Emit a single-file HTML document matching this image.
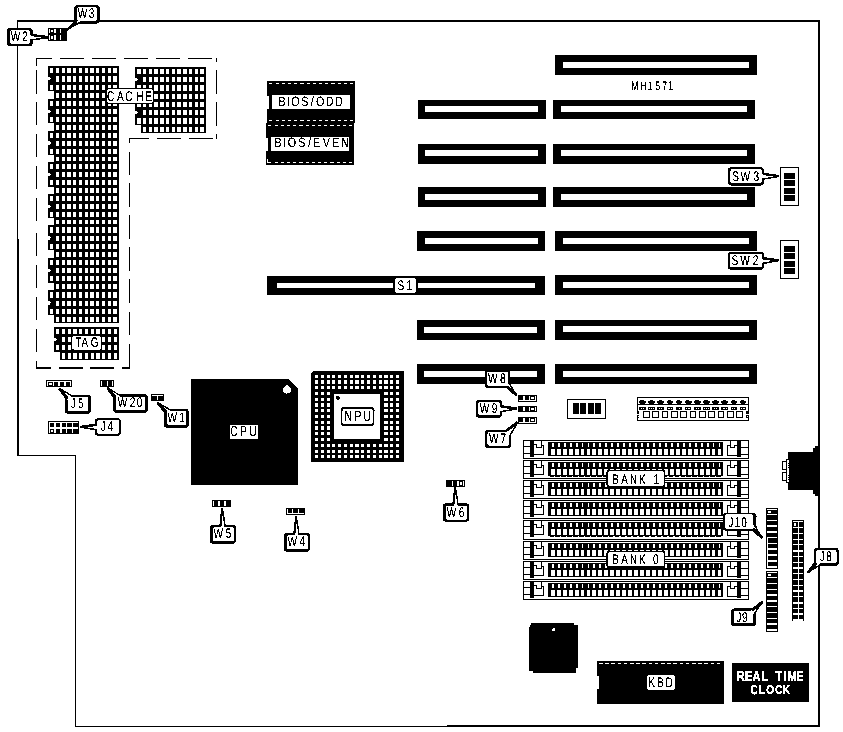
<!DOCTYPE html>
<html lang="en">
<head>
<meta charset="utf-8">
<title>MH1571 motherboard layout</title>
<style>
html,body{margin:0;padding:0;background:#fff;}
body{width:843px;height:732px;overflow:hidden;}
svg{display:block;font-family:"Liberation Sans",sans-serif;}
svg rect,svg path{shape-rendering:crispEdges;}
svg .aa{shape-rendering:auto;}
svg text{text-rendering:geometricPrecision;}
</style>
</head>
<body>
<svg width="843" height="732" viewBox="0 0 843 732">
<defs>
<filter id="bw" x="0" y="0" width="843" height="732" filterUnits="userSpaceOnUse" color-interpolation-filters="sRGB">
<feComponentTransfer>
<feFuncR type="discrete" tableValues="0 0 0 1 1"/>
<feFuncG type="discrete" tableValues="0 0 0 1 1"/>
<feFuncB type="discrete" tableValues="0 0 0 1 1"/>
</feComponentTransfer>
</filter>
</defs>
<g filter="url(#bw)">
<rect x="0" y="0" width="843" height="732" fill="#fff"/>
<rect x="17" y="20" width="803" height="2" fill="#000" />
<rect x="818" y="20" width="2" height="707" fill="#000" />
<rect x="75" y="726" width="372" height="1" fill="#000" />
<rect x="447" y="725" width="373" height="2" fill="#000" />
<rect x="75" y="455" width="1" height="272" fill="#000" />
<rect x="17" y="455" width="59" height="1" fill="#000" />
<rect x="17" y="20" width="1" height="219" fill="#000" />
<rect x="17" y="239" width="2" height="217" fill="#000" />
<rect x="36.1" y="58" width="15.7" height="1.2" fill="#000" />
<rect x="60.2" y="58" width="23.6" height="1.2" fill="#000" />
<rect x="92.2" y="58" width="23.7" height="1.2" fill="#000" />
<rect x="124.1" y="58" width="23.9" height="1.2" fill="#000" />
<rect x="156.2" y="58" width="23.9" height="1.2" fill="#000" />
<rect x="188" y="58" width="23.8" height="1.2" fill="#000" />
<rect x="215.7" y="58" width="1.4" height="1.2" fill="#000" />
<rect x="215.9" y="58" width="1.2" height="4" fill="#000" />
<rect x="215.9" y="69.8" width="1.2" height="23.9" fill="#000" />
<rect x="215.9" y="101.9" width="1.2" height="23.9" fill="#000" />
<rect x="215.9" y="134" width="1.2" height="5.4" fill="#000" />
<rect x="129" y="138.2" width="20" height="1.2" fill="#000" />
<rect x="156.9" y="138.2" width="23.9" height="1.2" fill="#000" />
<rect x="189" y="138.2" width="23.9" height="1.2" fill="#000" />
<rect x="215.7" y="138.2" width="1.4" height="1.2" fill="#000" />
<rect x="128.9" y="138.8" width="1.2" height="3.8" fill="#000" />
<rect x="128.9" y="151.5" width="1.2" height="23.7" fill="#000" />
<rect x="128.9" y="183.1" width="1.2" height="23.7" fill="#000" />
<rect x="128.9" y="215" width="1.2" height="23.7" fill="#000" />
<rect x="128.9" y="247.2" width="1.2" height="23.4" fill="#000" />
<rect x="128.9" y="279.3" width="1.2" height="23.7" fill="#000" />
<rect x="128.9" y="311.6" width="1.2" height="23.7" fill="#000" />
<rect x="128.9" y="343.6" width="1.2" height="25" fill="#000" />
<rect x="36.1" y="58" width="1.2" height="8.2" fill="#000" />
<rect x="36.1" y="69.9" width="1.2" height="23.6" fill="#000" />
<rect x="36.1" y="101.8" width="1.2" height="23.6" fill="#000" />
<rect x="36.1" y="133.7" width="1.2" height="23.6" fill="#000" />
<rect x="36.1" y="165.7" width="1.2" height="23.6" fill="#000" />
<rect x="36.1" y="197.6" width="1.2" height="23.6" fill="#000" />
<rect x="36.1" y="232.6" width="1.2" height="23.8" fill="#000" />
<rect x="36.1" y="264.6" width="1.2" height="23.7" fill="#000" />
<rect x="36.1" y="296.7" width="1.2" height="23.6" fill="#000" />
<rect x="36.1" y="328.5" width="1.2" height="23.7" fill="#000" />
<rect x="36.1" y="360.5" width="1.2" height="8.1" fill="#000" />
<rect x="36.1" y="367.4" width="14.9" height="1.2" fill="#000" />
<rect x="58.8" y="367.4" width="23.7" height="1.2" fill="#000" />
<rect x="90.4" y="367.4" width="23.7" height="1.2" fill="#000" />
<rect x="122" y="367.4" width="8.1" height="1.2" fill="#000" />
<g shape-rendering="crispEdges">
<rect x="48" y="65.8" width="71" height="25.35" fill="#000" />
<rect x="54" y="90.85" width="65" height="8.65" fill="#000" />
<path d="M50.10 67.8h3.3v5.35h-3.3zM55.85 67.8h3.3v5.35h-3.3zM61.60 67.8h3.3v5.35h-3.3zM67.35 67.8h3.3v5.35h-3.3zM73.10 67.8h3.3v5.35h-3.3zM78.85 67.8h3.3v5.35h-3.3zM84.60 67.8h3.3v5.35h-3.3zM90.35 67.8h3.3v5.35h-3.3zM96.10 67.8h3.3v5.35h-3.3zM101.85 67.8h3.3v5.35h-3.3zM107.60 67.8h3.3v5.35h-3.3zM113.35 67.8h3.3v5.35h-3.3z" fill="#fff"/>
<path d="M55.85 76.15h3.3v5.35h-3.3zM61.60 76.15h3.3v5.35h-3.3zM67.35 76.15h3.3v5.35h-3.3zM73.10 76.15h3.3v5.35h-3.3zM78.85 76.15h3.3v5.35h-3.3zM84.60 76.15h3.3v5.35h-3.3zM90.35 76.15h3.3v5.35h-3.3zM96.10 76.15h3.3v5.35h-3.3zM101.85 76.15h3.3v5.35h-3.3zM107.60 76.15h3.3v5.35h-3.3zM113.35 76.15h3.3v5.35h-3.3z" fill="#fff"/>
<path d="M50.10 84.5h3.3v5.35h-3.3zM55.85 84.5h3.3v5.35h-3.3zM61.60 84.5h3.3v5.35h-3.3zM67.35 84.5h3.3v5.35h-3.3zM73.10 84.5h3.3v5.35h-3.3zM78.85 84.5h3.3v5.35h-3.3zM84.60 84.5h3.3v5.35h-3.3zM90.35 84.5h3.3v5.35h-3.3zM96.10 84.5h3.3v5.35h-3.3zM101.85 84.5h3.3v5.35h-3.3zM107.60 84.5h3.3v5.35h-3.3zM113.35 84.5h3.3v5.35h-3.3z" fill="#fff"/>
<path d="M55.85 92.85h3.3v5.35h-3.3zM61.60 92.85h3.3v5.35h-3.3zM67.35 92.85h3.3v5.35h-3.3zM73.10 92.85h3.3v5.35h-3.3zM78.85 92.85h3.3v5.35h-3.3zM84.60 92.85h3.3v5.35h-3.3zM90.35 92.85h3.3v5.35h-3.3zM96.10 92.85h3.3v5.35h-3.3zM101.85 92.85h3.3v5.35h-3.3zM107.60 92.85h3.3v5.35h-3.3zM113.35 92.85h3.3v5.35h-3.3z" fill="#fff"/>
<path d="M48 76.55h1.6l1.4 1.9l-1.4 1.9h-1.6z" fill="#fff" class="aa"/>
<rect x="48" y="99.2" width="71" height="24" fill="#000" />
<rect x="54" y="122.9" width="65" height="8.2" fill="#000" />
<path d="M50.10 101.2h3.3v4.9h-3.3zM55.85 101.2h3.3v4.9h-3.3zM61.60 101.2h3.3v4.9h-3.3zM67.35 101.2h3.3v4.9h-3.3zM73.10 101.2h3.3v4.9h-3.3zM78.85 101.2h3.3v4.9h-3.3zM84.60 101.2h3.3v4.9h-3.3zM90.35 101.2h3.3v4.9h-3.3zM96.10 101.2h3.3v4.9h-3.3zM101.85 101.2h3.3v4.9h-3.3zM107.60 101.2h3.3v4.9h-3.3zM113.35 101.2h3.3v4.9h-3.3z" fill="#fff"/>
<path d="M55.85 109.1h3.3v4.9h-3.3zM61.60 109.1h3.3v4.9h-3.3zM67.35 109.1h3.3v4.9h-3.3zM73.10 109.1h3.3v4.9h-3.3zM78.85 109.1h3.3v4.9h-3.3zM84.60 109.1h3.3v4.9h-3.3zM90.35 109.1h3.3v4.9h-3.3zM96.10 109.1h3.3v4.9h-3.3zM101.85 109.1h3.3v4.9h-3.3zM107.60 109.1h3.3v4.9h-3.3zM113.35 109.1h3.3v4.9h-3.3z" fill="#fff"/>
<path d="M50.10 117h3.3v4.9h-3.3zM55.85 117h3.3v4.9h-3.3zM61.60 117h3.3v4.9h-3.3zM67.35 117h3.3v4.9h-3.3zM73.10 117h3.3v4.9h-3.3zM78.85 117h3.3v4.9h-3.3zM84.60 117h3.3v4.9h-3.3zM90.35 117h3.3v4.9h-3.3zM96.10 117h3.3v4.9h-3.3zM101.85 117h3.3v4.9h-3.3zM107.60 117h3.3v4.9h-3.3zM113.35 117h3.3v4.9h-3.3z" fill="#fff"/>
<path d="M55.85 124.9h3.3v4.9h-3.3zM61.60 124.9h3.3v4.9h-3.3zM67.35 124.9h3.3v4.9h-3.3zM73.10 124.9h3.3v4.9h-3.3zM78.85 124.9h3.3v4.9h-3.3zM84.60 124.9h3.3v4.9h-3.3zM90.35 124.9h3.3v4.9h-3.3zM96.10 124.9h3.3v4.9h-3.3zM101.85 124.9h3.3v4.9h-3.3zM107.60 124.9h3.3v4.9h-3.3zM113.35 124.9h3.3v4.9h-3.3z" fill="#fff"/>
<path d="M48 109.5h1.6l1.4 1.9l-1.4 1.9h-1.6z" fill="#fff" class="aa"/>
<rect x="48" y="130.8" width="71" height="24" fill="#000" />
<rect x="54" y="154.5" width="65" height="8.2" fill="#000" />
<path d="M50.10 132.8h3.3v4.9h-3.3zM55.85 132.8h3.3v4.9h-3.3zM61.60 132.8h3.3v4.9h-3.3zM67.35 132.8h3.3v4.9h-3.3zM73.10 132.8h3.3v4.9h-3.3zM78.85 132.8h3.3v4.9h-3.3zM84.60 132.8h3.3v4.9h-3.3zM90.35 132.8h3.3v4.9h-3.3zM96.10 132.8h3.3v4.9h-3.3zM101.85 132.8h3.3v4.9h-3.3zM107.60 132.8h3.3v4.9h-3.3zM113.35 132.8h3.3v4.9h-3.3z" fill="#fff"/>
<path d="M55.85 140.7h3.3v4.9h-3.3zM61.60 140.7h3.3v4.9h-3.3zM67.35 140.7h3.3v4.9h-3.3zM73.10 140.7h3.3v4.9h-3.3zM78.85 140.7h3.3v4.9h-3.3zM84.60 140.7h3.3v4.9h-3.3zM90.35 140.7h3.3v4.9h-3.3zM96.10 140.7h3.3v4.9h-3.3zM101.85 140.7h3.3v4.9h-3.3zM107.60 140.7h3.3v4.9h-3.3zM113.35 140.7h3.3v4.9h-3.3z" fill="#fff"/>
<path d="M50.10 148.6h3.3v4.9h-3.3zM55.85 148.6h3.3v4.9h-3.3zM61.60 148.6h3.3v4.9h-3.3zM67.35 148.6h3.3v4.9h-3.3zM73.10 148.6h3.3v4.9h-3.3zM78.85 148.6h3.3v4.9h-3.3zM84.60 148.6h3.3v4.9h-3.3zM90.35 148.6h3.3v4.9h-3.3zM96.10 148.6h3.3v4.9h-3.3zM101.85 148.6h3.3v4.9h-3.3zM107.60 148.6h3.3v4.9h-3.3zM113.35 148.6h3.3v4.9h-3.3z" fill="#fff"/>
<path d="M55.85 156.5h3.3v4.9h-3.3zM61.60 156.5h3.3v4.9h-3.3zM67.35 156.5h3.3v4.9h-3.3zM73.10 156.5h3.3v4.9h-3.3zM78.85 156.5h3.3v4.9h-3.3zM84.60 156.5h3.3v4.9h-3.3zM90.35 156.5h3.3v4.9h-3.3zM96.10 156.5h3.3v4.9h-3.3zM101.85 156.5h3.3v4.9h-3.3zM107.60 156.5h3.3v4.9h-3.3zM113.35 156.5h3.3v4.9h-3.3z" fill="#fff"/>
<path d="M48 141.1h1.6l1.4 1.9l-1.4 1.9h-1.6z" fill="#fff" class="aa"/>
<rect x="48" y="162.4" width="71" height="24.3" fill="#000" />
<rect x="54" y="186.4" width="65" height="8.3" fill="#000" />
<path d="M50.10 164.4h3.3v5h-3.3zM55.85 164.4h3.3v5h-3.3zM61.60 164.4h3.3v5h-3.3zM67.35 164.4h3.3v5h-3.3zM73.10 164.4h3.3v5h-3.3zM78.85 164.4h3.3v5h-3.3zM84.60 164.4h3.3v5h-3.3zM90.35 164.4h3.3v5h-3.3zM96.10 164.4h3.3v5h-3.3zM101.85 164.4h3.3v5h-3.3zM107.60 164.4h3.3v5h-3.3zM113.35 164.4h3.3v5h-3.3z" fill="#fff"/>
<path d="M55.85 172.4h3.3v5h-3.3zM61.60 172.4h3.3v5h-3.3zM67.35 172.4h3.3v5h-3.3zM73.10 172.4h3.3v5h-3.3zM78.85 172.4h3.3v5h-3.3zM84.60 172.4h3.3v5h-3.3zM90.35 172.4h3.3v5h-3.3zM96.10 172.4h3.3v5h-3.3zM101.85 172.4h3.3v5h-3.3zM107.60 172.4h3.3v5h-3.3zM113.35 172.4h3.3v5h-3.3z" fill="#fff"/>
<path d="M50.10 180.4h3.3v5h-3.3zM55.85 180.4h3.3v5h-3.3zM61.60 180.4h3.3v5h-3.3zM67.35 180.4h3.3v5h-3.3zM73.10 180.4h3.3v5h-3.3zM78.85 180.4h3.3v5h-3.3zM84.60 180.4h3.3v5h-3.3zM90.35 180.4h3.3v5h-3.3zM96.10 180.4h3.3v5h-3.3zM101.85 180.4h3.3v5h-3.3zM107.60 180.4h3.3v5h-3.3zM113.35 180.4h3.3v5h-3.3z" fill="#fff"/>
<path d="M55.85 188.4h3.3v5h-3.3zM61.60 188.4h3.3v5h-3.3zM67.35 188.4h3.3v5h-3.3zM73.10 188.4h3.3v5h-3.3zM78.85 188.4h3.3v5h-3.3zM84.60 188.4h3.3v5h-3.3zM90.35 188.4h3.3v5h-3.3zM96.10 188.4h3.3v5h-3.3zM101.85 188.4h3.3v5h-3.3zM107.60 188.4h3.3v5h-3.3zM113.35 188.4h3.3v5h-3.3z" fill="#fff"/>
<path d="M48 172.8h1.6l1.4 1.9l-1.4 1.9h-1.6z" fill="#fff" class="aa"/>
<rect x="48" y="194.4" width="71" height="23.55" fill="#000" />
<rect x="54" y="217.65" width="65" height="8.05" fill="#000" />
<path d="M50.10 196.4h3.3v4.75h-3.3zM55.85 196.4h3.3v4.75h-3.3zM61.60 196.4h3.3v4.75h-3.3zM67.35 196.4h3.3v4.75h-3.3zM73.10 196.4h3.3v4.75h-3.3zM78.85 196.4h3.3v4.75h-3.3zM84.60 196.4h3.3v4.75h-3.3zM90.35 196.4h3.3v4.75h-3.3zM96.10 196.4h3.3v4.75h-3.3zM101.85 196.4h3.3v4.75h-3.3zM107.60 196.4h3.3v4.75h-3.3zM113.35 196.4h3.3v4.75h-3.3z" fill="#fff"/>
<path d="M55.85 204.15h3.3v4.75h-3.3zM61.60 204.15h3.3v4.75h-3.3zM67.35 204.15h3.3v4.75h-3.3zM73.10 204.15h3.3v4.75h-3.3zM78.85 204.15h3.3v4.75h-3.3zM84.60 204.15h3.3v4.75h-3.3zM90.35 204.15h3.3v4.75h-3.3zM96.10 204.15h3.3v4.75h-3.3zM101.85 204.15h3.3v4.75h-3.3zM107.60 204.15h3.3v4.75h-3.3zM113.35 204.15h3.3v4.75h-3.3z" fill="#fff"/>
<path d="M50.10 211.9h3.3v4.75h-3.3zM55.85 211.9h3.3v4.75h-3.3zM61.60 211.9h3.3v4.75h-3.3zM67.35 211.9h3.3v4.75h-3.3zM73.10 211.9h3.3v4.75h-3.3zM78.85 211.9h3.3v4.75h-3.3zM84.60 211.9h3.3v4.75h-3.3zM90.35 211.9h3.3v4.75h-3.3zM96.10 211.9h3.3v4.75h-3.3zM101.85 211.9h3.3v4.75h-3.3zM107.60 211.9h3.3v4.75h-3.3zM113.35 211.9h3.3v4.75h-3.3z" fill="#fff"/>
<path d="M55.85 219.65h3.3v4.75h-3.3zM61.60 219.65h3.3v4.75h-3.3zM67.35 219.65h3.3v4.75h-3.3zM73.10 219.65h3.3v4.75h-3.3zM78.85 219.65h3.3v4.75h-3.3zM84.60 219.65h3.3v4.75h-3.3zM90.35 219.65h3.3v4.75h-3.3zM96.10 219.65h3.3v4.75h-3.3zM101.85 219.65h3.3v4.75h-3.3zM107.60 219.65h3.3v4.75h-3.3zM113.35 219.65h3.3v4.75h-3.3z" fill="#fff"/>
<path d="M48 204.55h1.6l1.4 1.9l-1.4 1.9h-1.6z" fill="#fff" class="aa"/>
<rect x="48" y="225.4" width="71" height="24.675" fill="#000" />
<rect x="54" y="249.775" width="65" height="8.425" fill="#000" />
<path d="M50.10 227.4h3.3v5.125h-3.3zM55.85 227.4h3.3v5.125h-3.3zM61.60 227.4h3.3v5.125h-3.3zM67.35 227.4h3.3v5.125h-3.3zM73.10 227.4h3.3v5.125h-3.3zM78.85 227.4h3.3v5.125h-3.3zM84.60 227.4h3.3v5.125h-3.3zM90.35 227.4h3.3v5.125h-3.3zM96.10 227.4h3.3v5.125h-3.3zM101.85 227.4h3.3v5.125h-3.3zM107.60 227.4h3.3v5.125h-3.3zM113.35 227.4h3.3v5.125h-3.3z" fill="#fff"/>
<path d="M55.85 235.525h3.3v5.125h-3.3zM61.60 235.525h3.3v5.125h-3.3zM67.35 235.525h3.3v5.125h-3.3zM73.10 235.525h3.3v5.125h-3.3zM78.85 235.525h3.3v5.125h-3.3zM84.60 235.525h3.3v5.125h-3.3zM90.35 235.525h3.3v5.125h-3.3zM96.10 235.525h3.3v5.125h-3.3zM101.85 235.525h3.3v5.125h-3.3zM107.60 235.525h3.3v5.125h-3.3zM113.35 235.525h3.3v5.125h-3.3z" fill="#fff"/>
<path d="M50.10 243.65h3.3v5.125h-3.3zM55.85 243.65h3.3v5.125h-3.3zM61.60 243.65h3.3v5.125h-3.3zM67.35 243.65h3.3v5.125h-3.3zM73.10 243.65h3.3v5.125h-3.3zM78.85 243.65h3.3v5.125h-3.3zM84.60 243.65h3.3v5.125h-3.3zM90.35 243.65h3.3v5.125h-3.3zM96.10 243.65h3.3v5.125h-3.3zM101.85 243.65h3.3v5.125h-3.3zM107.60 243.65h3.3v5.125h-3.3zM113.35 243.65h3.3v5.125h-3.3z" fill="#fff"/>
<path d="M55.85 251.775h3.3v5.125h-3.3zM61.60 251.775h3.3v5.125h-3.3zM67.35 251.775h3.3v5.125h-3.3zM73.10 251.775h3.3v5.125h-3.3zM78.85 251.775h3.3v5.125h-3.3zM84.60 251.775h3.3v5.125h-3.3zM90.35 251.775h3.3v5.125h-3.3zM96.10 251.775h3.3v5.125h-3.3zM101.85 251.775h3.3v5.125h-3.3zM107.60 251.775h3.3v5.125h-3.3zM113.35 251.775h3.3v5.125h-3.3z" fill="#fff"/>
<path d="M48 235.925h1.6l1.4 1.9l-1.4 1.9h-1.6z" fill="#fff" class="aa"/>
<rect x="48" y="257.9" width="71" height="24.675" fill="#000" />
<rect x="54" y="282.275" width="65" height="8.425" fill="#000" />
<path d="M50.10 259.9h3.3v5.125h-3.3zM55.85 259.9h3.3v5.125h-3.3zM61.60 259.9h3.3v5.125h-3.3zM67.35 259.9h3.3v5.125h-3.3zM73.10 259.9h3.3v5.125h-3.3zM78.85 259.9h3.3v5.125h-3.3zM84.60 259.9h3.3v5.125h-3.3zM90.35 259.9h3.3v5.125h-3.3zM96.10 259.9h3.3v5.125h-3.3zM101.85 259.9h3.3v5.125h-3.3zM107.60 259.9h3.3v5.125h-3.3zM113.35 259.9h3.3v5.125h-3.3z" fill="#fff"/>
<path d="M55.85 268.025h3.3v5.125h-3.3zM61.60 268.025h3.3v5.125h-3.3zM67.35 268.025h3.3v5.125h-3.3zM73.10 268.025h3.3v5.125h-3.3zM78.85 268.025h3.3v5.125h-3.3zM84.60 268.025h3.3v5.125h-3.3zM90.35 268.025h3.3v5.125h-3.3zM96.10 268.025h3.3v5.125h-3.3zM101.85 268.025h3.3v5.125h-3.3zM107.60 268.025h3.3v5.125h-3.3zM113.35 268.025h3.3v5.125h-3.3z" fill="#fff"/>
<path d="M50.10 276.15h3.3v5.125h-3.3zM55.85 276.15h3.3v5.125h-3.3zM61.60 276.15h3.3v5.125h-3.3zM67.35 276.15h3.3v5.125h-3.3zM73.10 276.15h3.3v5.125h-3.3zM78.85 276.15h3.3v5.125h-3.3zM84.60 276.15h3.3v5.125h-3.3zM90.35 276.15h3.3v5.125h-3.3zM96.10 276.15h3.3v5.125h-3.3zM101.85 276.15h3.3v5.125h-3.3zM107.60 276.15h3.3v5.125h-3.3zM113.35 276.15h3.3v5.125h-3.3z" fill="#fff"/>
<path d="M55.85 284.275h3.3v5.125h-3.3zM61.60 284.275h3.3v5.125h-3.3zM67.35 284.275h3.3v5.125h-3.3zM73.10 284.275h3.3v5.125h-3.3zM78.85 284.275h3.3v5.125h-3.3zM84.60 284.275h3.3v5.125h-3.3zM90.35 284.275h3.3v5.125h-3.3zM96.10 284.275h3.3v5.125h-3.3zM101.85 284.275h3.3v5.125h-3.3zM107.60 284.275h3.3v5.125h-3.3zM113.35 284.275h3.3v5.125h-3.3z" fill="#fff"/>
<path d="M48 268.425h1.6l1.4 1.9l-1.4 1.9h-1.6z" fill="#fff" class="aa"/>
<rect x="48" y="290.4" width="71" height="24.75" fill="#000" />
<rect x="54" y="314.85" width="65" height="8.15" fill="#000" />
<path d="M50.10 292.4h3.3v5.15h-3.3zM55.85 292.4h3.3v5.15h-3.3zM61.60 292.4h3.3v5.15h-3.3zM67.35 292.4h3.3v5.15h-3.3zM73.10 292.4h3.3v5.15h-3.3zM78.85 292.4h3.3v5.15h-3.3zM84.60 292.4h3.3v5.15h-3.3zM90.35 292.4h3.3v5.15h-3.3zM96.10 292.4h3.3v5.15h-3.3zM101.85 292.4h3.3v5.15h-3.3zM107.60 292.4h3.3v5.15h-3.3zM113.35 292.4h3.3v5.15h-3.3z" fill="#fff"/>
<path d="M55.85 300.55h3.3v5.15h-3.3zM61.60 300.55h3.3v5.15h-3.3zM67.35 300.55h3.3v5.15h-3.3zM73.10 300.55h3.3v5.15h-3.3zM78.85 300.55h3.3v5.15h-3.3zM84.60 300.55h3.3v5.15h-3.3zM90.35 300.55h3.3v5.15h-3.3zM96.10 300.55h3.3v5.15h-3.3zM101.85 300.55h3.3v5.15h-3.3zM107.60 300.55h3.3v5.15h-3.3zM113.35 300.55h3.3v5.15h-3.3z" fill="#fff"/>
<path d="M50.10 308.7h3.3v5.15h-3.3zM55.85 308.7h3.3v5.15h-3.3zM61.60 308.7h3.3v5.15h-3.3zM67.35 308.7h3.3v5.15h-3.3zM73.10 308.7h3.3v5.15h-3.3zM78.85 308.7h3.3v5.15h-3.3zM84.60 308.7h3.3v5.15h-3.3zM90.35 308.7h3.3v5.15h-3.3zM96.10 308.7h3.3v5.15h-3.3zM101.85 308.7h3.3v5.15h-3.3zM107.60 308.7h3.3v5.15h-3.3zM113.35 308.7h3.3v5.15h-3.3z" fill="#fff"/>
<path d="M55.85 316.85h3.3v5.15h-3.3zM61.60 316.85h3.3v5.15h-3.3zM67.35 316.85h3.3v5.15h-3.3zM73.10 316.85h3.3v5.15h-3.3zM78.85 316.85h3.3v5.15h-3.3zM84.60 316.85h3.3v5.15h-3.3zM90.35 316.85h3.3v5.15h-3.3zM96.10 316.85h3.3v5.15h-3.3zM101.85 316.85h3.3v5.15h-3.3zM107.60 316.85h3.3v5.15h-3.3zM113.35 316.85h3.3v5.15h-3.3z" fill="#fff"/>
<path d="M48 300.95h1.6l1.4 1.9l-1.4 1.9h-1.6z" fill="#fff" class="aa"/>
<rect x="135.2" y="67" width="70.8" height="24.9" fill="#000" />
<rect x="141.2" y="91.6" width="64.8" height="8.5" fill="#000" />
<path d="M137.20 69h3.3v5.2h-3.3zM142.95 69h3.3v5.2h-3.3zM148.70 69h3.3v5.2h-3.3zM154.45 69h3.3v5.2h-3.3zM160.20 69h3.3v5.2h-3.3zM165.95 69h3.3v5.2h-3.3zM171.70 69h3.3v5.2h-3.3zM177.45 69h3.3v5.2h-3.3zM183.20 69h3.3v5.2h-3.3zM188.95 69h3.3v5.2h-3.3zM194.70 69h3.3v5.2h-3.3zM200.45 69h3.3v5.2h-3.3z" fill="#fff"/>
<path d="M142.95 77.2h3.3v5.2h-3.3zM148.70 77.2h3.3v5.2h-3.3zM154.45 77.2h3.3v5.2h-3.3zM160.20 77.2h3.3v5.2h-3.3zM165.95 77.2h3.3v5.2h-3.3zM171.70 77.2h3.3v5.2h-3.3zM177.45 77.2h3.3v5.2h-3.3zM183.20 77.2h3.3v5.2h-3.3zM188.95 77.2h3.3v5.2h-3.3zM194.70 77.2h3.3v5.2h-3.3zM200.45 77.2h3.3v5.2h-3.3z" fill="#fff"/>
<path d="M137.20 85.4h3.3v5.2h-3.3zM142.95 85.4h3.3v5.2h-3.3zM148.70 85.4h3.3v5.2h-3.3zM154.45 85.4h3.3v5.2h-3.3zM160.20 85.4h3.3v5.2h-3.3zM165.95 85.4h3.3v5.2h-3.3zM171.70 85.4h3.3v5.2h-3.3zM177.45 85.4h3.3v5.2h-3.3zM183.20 85.4h3.3v5.2h-3.3zM188.95 85.4h3.3v5.2h-3.3zM194.70 85.4h3.3v5.2h-3.3zM200.45 85.4h3.3v5.2h-3.3z" fill="#fff"/>
<path d="M142.95 93.6h3.3v5.2h-3.3zM148.70 93.6h3.3v5.2h-3.3zM154.45 93.6h3.3v5.2h-3.3zM160.20 93.6h3.3v5.2h-3.3zM165.95 93.6h3.3v5.2h-3.3zM171.70 93.6h3.3v5.2h-3.3zM177.45 93.6h3.3v5.2h-3.3zM183.20 93.6h3.3v5.2h-3.3zM188.95 93.6h3.3v5.2h-3.3zM194.70 93.6h3.3v5.2h-3.3zM200.45 93.6h3.3v5.2h-3.3z" fill="#fff"/>
<path d="M135.2 77.6h1.6l1.4 1.9l-1.4 1.9h-1.6z" fill="#fff" class="aa"/>
<rect x="135.2" y="99.8" width="70.8" height="25.2" fill="#000" />
<rect x="141.2" y="124.7" width="64.8" height="8.3" fill="#000" />
<path d="M137.20 101.8h3.3v5.3h-3.3zM142.95 101.8h3.3v5.3h-3.3zM148.70 101.8h3.3v5.3h-3.3zM154.45 101.8h3.3v5.3h-3.3zM160.20 101.8h3.3v5.3h-3.3zM165.95 101.8h3.3v5.3h-3.3zM171.70 101.8h3.3v5.3h-3.3zM177.45 101.8h3.3v5.3h-3.3zM183.20 101.8h3.3v5.3h-3.3zM188.95 101.8h3.3v5.3h-3.3zM194.70 101.8h3.3v5.3h-3.3zM200.45 101.8h3.3v5.3h-3.3z" fill="#fff"/>
<path d="M142.95 110.1h3.3v5.3h-3.3zM148.70 110.1h3.3v5.3h-3.3zM154.45 110.1h3.3v5.3h-3.3zM160.20 110.1h3.3v5.3h-3.3zM165.95 110.1h3.3v5.3h-3.3zM171.70 110.1h3.3v5.3h-3.3zM177.45 110.1h3.3v5.3h-3.3zM183.20 110.1h3.3v5.3h-3.3zM188.95 110.1h3.3v5.3h-3.3zM194.70 110.1h3.3v5.3h-3.3zM200.45 110.1h3.3v5.3h-3.3z" fill="#fff"/>
<path d="M137.20 118.4h3.3v5.3h-3.3zM142.95 118.4h3.3v5.3h-3.3zM148.70 118.4h3.3v5.3h-3.3zM154.45 118.4h3.3v5.3h-3.3zM160.20 118.4h3.3v5.3h-3.3zM165.95 118.4h3.3v5.3h-3.3zM171.70 118.4h3.3v5.3h-3.3zM177.45 118.4h3.3v5.3h-3.3zM183.20 118.4h3.3v5.3h-3.3zM188.95 118.4h3.3v5.3h-3.3zM194.70 118.4h3.3v5.3h-3.3zM200.45 118.4h3.3v5.3h-3.3z" fill="#fff"/>
<path d="M142.95 126.7h3.3v5.3h-3.3zM148.70 126.7h3.3v5.3h-3.3zM154.45 126.7h3.3v5.3h-3.3zM160.20 126.7h3.3v5.3h-3.3zM165.95 126.7h3.3v5.3h-3.3zM171.70 126.7h3.3v5.3h-3.3zM177.45 126.7h3.3v5.3h-3.3zM183.20 126.7h3.3v5.3h-3.3zM188.95 126.7h3.3v5.3h-3.3zM194.70 126.7h3.3v5.3h-3.3zM200.45 126.7h3.3v5.3h-3.3z" fill="#fff"/>
<path d="M135.2 110.5h1.6l1.4 1.9l-1.4 1.9h-1.6z" fill="#fff" class="aa"/>
<rect x="54" y="326.9" width="65" height="24.825" fill="#000" />
<rect x="60" y="351.425" width="59" height="8.175" fill="#000" />
<path d="M56.00 328.9h3.3v5.175h-3.3zM61.75 328.9h3.3v5.175h-3.3zM67.50 328.9h3.3v5.175h-3.3zM73.25 328.9h3.3v5.175h-3.3zM79.00 328.9h3.3v5.175h-3.3zM84.75 328.9h3.3v5.175h-3.3zM90.50 328.9h3.3v5.175h-3.3zM96.25 328.9h3.3v5.175h-3.3zM102.00 328.9h3.3v5.175h-3.3zM107.75 328.9h3.3v5.175h-3.3zM113.50 328.9h3.3v5.175h-3.3z" fill="#fff"/>
<path d="M61.75 337.075h3.3v5.175h-3.3zM67.50 337.075h3.3v5.175h-3.3zM73.25 337.075h3.3v5.175h-3.3zM79.00 337.075h3.3v5.175h-3.3zM84.75 337.075h3.3v5.175h-3.3zM90.50 337.075h3.3v5.175h-3.3zM96.25 337.075h3.3v5.175h-3.3zM102.00 337.075h3.3v5.175h-3.3zM107.75 337.075h3.3v5.175h-3.3zM113.50 337.075h3.3v5.175h-3.3z" fill="#fff"/>
<path d="M56.00 345.25h3.3v5.175h-3.3zM61.75 345.25h3.3v5.175h-3.3zM67.50 345.25h3.3v5.175h-3.3zM73.25 345.25h3.3v5.175h-3.3zM79.00 345.25h3.3v5.175h-3.3zM84.75 345.25h3.3v5.175h-3.3zM90.50 345.25h3.3v5.175h-3.3zM96.25 345.25h3.3v5.175h-3.3zM102.00 345.25h3.3v5.175h-3.3zM107.75 345.25h3.3v5.175h-3.3zM113.50 345.25h3.3v5.175h-3.3z" fill="#fff"/>
<path d="M61.75 353.425h3.3v5.175h-3.3zM67.50 353.425h3.3v5.175h-3.3zM73.25 353.425h3.3v5.175h-3.3zM79.00 353.425h3.3v5.175h-3.3zM84.75 353.425h3.3v5.175h-3.3zM90.50 353.425h3.3v5.175h-3.3zM96.25 353.425h3.3v5.175h-3.3zM102.00 353.425h3.3v5.175h-3.3zM107.75 353.425h3.3v5.175h-3.3zM113.50 353.425h3.3v5.175h-3.3z" fill="#fff"/>
<path d="M54 337.475h1.6l1.4 1.9l-1.4 1.9h-1.6z" fill="#fff" class="aa"/>
</g>
<rect x="267" y="81" width="88" height="41.6" fill="#000" />
<rect x="266" y="122.6" width="88" height="42.4" fill="#000" />
<line x1="269.2" y1="83.5" x2="354" y2="83.5" stroke="#fff" stroke-width="1" stroke-dasharray="3.4 2.82"/>
<line x1="269.2" y1="120.5" x2="354" y2="120.5" stroke="#fff" stroke-width="1" stroke-dasharray="3.4 2.82"/>
<line x1="268.2" y1="125.5" x2="353" y2="125.5" stroke="#fff" stroke-width="1" stroke-dasharray="3.4 2.82"/>
<line x1="268.2" y1="162.5" x2="353" y2="162.5" stroke="#fff" stroke-width="1" stroke-dasharray="3.4 2.82"/>
<rect x="272" y="95.2" width="78" height="13.8" fill="#fff" />
<rect x="270.7" y="137" width="78.3" height="14" fill="#fff" />
<rect x="267" y="95.5" width="2.3" height="13" fill="#fff" />
<rect x="266" y="137.5" width="2.2" height="13" fill="#fff" />
<rect x="267.3" y="158.5" width="1" height="4" fill="#fff" />
<text transform="scale(0.800,1)" x="348.14 358.63 363.94 376.63 388.46 395.01 407.21 418.65" y="105.9" font-size="13.5" fill="#000" font-weight="normal">BIOS/ODD</text>
<text transform="scale(0.800,1)" x="343.14 354.00 359.68 372.74 384.93 391.39 403.57 415.22 426.35" y="147.4" font-size="13.5" fill="#000" font-weight="normal">BIOS/EVEN</text>
<rect x="555" y="55" width="202" height="20" fill="#000" />
<rect x="562.7" y="62" width="186.6" height="6" fill="#fff" />
<rect x="553" y="100" width="202" height="18.7" fill="#000" />
<rect x="560.5" y="106.4" width="186.8" height="6" fill="#fff" />
<rect x="418" y="100" width="128" height="18.7" fill="#000" />
<rect x="425" y="106.4" width="113.4" height="6" fill="#fff" />
<rect x="553" y="144" width="202" height="19.6" fill="#000" />
<rect x="560.5" y="150.4" width="186.8" height="6" fill="#fff" />
<rect x="418" y="144" width="128" height="19.6" fill="#000" />
<rect x="425" y="150.4" width="113.4" height="6" fill="#fff" />
<rect x="553" y="187.2" width="202" height="19.6" fill="#000" />
<rect x="560.5" y="193.6" width="186.8" height="6" fill="#fff" />
<rect x="418" y="187.2" width="128" height="19.6" fill="#000" />
<rect x="425" y="193.6" width="113.4" height="6" fill="#fff" />
<rect x="555" y="231" width="202" height="19.7" fill="#000" />
<rect x="562.7" y="237.6" width="186.6" height="6" fill="#fff" />
<rect x="416.5" y="231" width="128.5" height="19.7" fill="#000" />
<rect x="424.8" y="237.8" width="113.4" height="6.2" fill="#fff" />
<rect x="555" y="275.4" width="202" height="19.4" fill="#000" />
<rect x="562.7" y="282" width="186.6" height="6" fill="#fff" />
<rect x="267" y="276.2" width="278" height="18.6" fill="#000" />
<rect x="277" y="282.8" width="257.6" height="5.2" fill="#fff" />
<rect x="555" y="319.8" width="202" height="19.8" fill="#000" />
<rect x="562.7" y="326.4" width="186.6" height="6" fill="#fff" />
<rect x="416.5" y="319.8" width="128.5" height="19.8" fill="#000" />
<rect x="423.8" y="326.6" width="113.4" height="6.2" fill="#fff" />
<rect x="555" y="364" width="202" height="19.7" fill="#000" />
<rect x="562.7" y="370.6" width="186.6" height="6" fill="#fff" />
<rect x="416.5" y="364" width="128.5" height="19.7" fill="#000" />
<rect x="423.8" y="370.8" width="113.4" height="6.2" fill="#fff" />
<text transform="scale(0.720,1)" x="876.72 889.06 899.64 909.95 919.73 927.76" y="89.8" font-size="12.2" fill="#000" font-weight="normal">MH1571</text>
<polygon points="191,379 288.9,379 298.1,388.2 298.1,484.8 191,484.8" fill="#000" class="aa"/>
<path d="M287 384.5L291.2 388.4V391.8L289.7 393.3H287.5L286.5 394.3L285.5 393.3H284.2L282.7 391.8V388.4Z" fill="#fff" class="aa"/>
<rect x="230.4" y="425" width="27.3" height="13.9" fill="#fff" />
<text transform="scale(0.720,1)" x="319.70 333.32 346.33" y="436.1" font-size="14.6" fill="#000" font-weight="normal">CPU</text>
<path d="M313.5 371.3H404V461.8H311.2V373.6z" fill="#000" class="aa"/>
<path d="M314.95 374.65h3.1v3.1h-3.1zM320.74 374.65h3.1v3.1h-3.1zM326.53 374.65h3.1v3.1h-3.1zM332.32 374.65h3.1v3.1h-3.1zM338.11 374.65h3.1v3.1h-3.1zM343.90 374.65h3.1v3.1h-3.1zM349.69 374.65h3.1v3.1h-3.1zM355.48 374.65h3.1v3.1h-3.1zM361.27 374.65h3.1v3.1h-3.1zM367.06 374.65h3.1v3.1h-3.1zM372.85 374.65h3.1v3.1h-3.1zM378.64 374.65h3.1v3.1h-3.1zM384.43 374.65h3.1v3.1h-3.1zM390.22 374.65h3.1v3.1h-3.1zM396.01 374.65h3.1v3.1h-3.1zM314.95 380.41h3.1v3.1h-3.1zM320.74 380.41h3.1v3.1h-3.1zM326.53 380.41h3.1v3.1h-3.1zM332.32 380.41h3.1v3.1h-3.1zM338.11 380.41h3.1v3.1h-3.1zM343.90 380.41h3.1v3.1h-3.1zM349.69 380.41h3.1v3.1h-3.1zM355.48 380.41h3.1v3.1h-3.1zM361.27 380.41h3.1v3.1h-3.1zM367.06 380.41h3.1v3.1h-3.1zM372.85 380.41h3.1v3.1h-3.1zM378.64 380.41h3.1v3.1h-3.1zM384.43 380.41h3.1v3.1h-3.1zM390.22 380.41h3.1v3.1h-3.1zM396.01 380.41h3.1v3.1h-3.1zM314.95 386.17h3.1v3.1h-3.1zM320.74 386.17h3.1v3.1h-3.1zM326.53 386.17h3.1v3.1h-3.1zM332.32 386.17h3.1v3.1h-3.1zM338.11 386.17h3.1v3.1h-3.1zM343.90 386.17h3.1v3.1h-3.1zM349.69 386.17h3.1v3.1h-3.1zM355.48 386.17h3.1v3.1h-3.1zM361.27 386.17h3.1v3.1h-3.1zM367.06 386.17h3.1v3.1h-3.1zM372.85 386.17h3.1v3.1h-3.1zM378.64 386.17h3.1v3.1h-3.1zM384.43 386.17h3.1v3.1h-3.1zM390.22 386.17h3.1v3.1h-3.1zM396.01 386.17h3.1v3.1h-3.1zM314.95 391.93h3.1v3.1h-3.1zM320.74 391.93h3.1v3.1h-3.1zM326.53 391.93h3.1v3.1h-3.1zM384.43 391.93h3.1v3.1h-3.1zM390.22 391.93h3.1v3.1h-3.1zM396.01 391.93h3.1v3.1h-3.1zM314.95 397.69h3.1v3.1h-3.1zM320.74 397.69h3.1v3.1h-3.1zM326.53 397.69h3.1v3.1h-3.1zM384.43 397.69h3.1v3.1h-3.1zM390.22 397.69h3.1v3.1h-3.1zM396.01 397.69h3.1v3.1h-3.1zM314.95 403.45h3.1v3.1h-3.1zM320.74 403.45h3.1v3.1h-3.1zM326.53 403.45h3.1v3.1h-3.1zM384.43 403.45h3.1v3.1h-3.1zM390.22 403.45h3.1v3.1h-3.1zM396.01 403.45h3.1v3.1h-3.1zM314.95 409.21h3.1v3.1h-3.1zM320.74 409.21h3.1v3.1h-3.1zM326.53 409.21h3.1v3.1h-3.1zM384.43 409.21h3.1v3.1h-3.1zM390.22 409.21h3.1v3.1h-3.1zM396.01 409.21h3.1v3.1h-3.1zM314.95 414.97h3.1v3.1h-3.1zM320.74 414.97h3.1v3.1h-3.1zM326.53 414.97h3.1v3.1h-3.1zM384.43 414.97h3.1v3.1h-3.1zM390.22 414.97h3.1v3.1h-3.1zM396.01 414.97h3.1v3.1h-3.1zM314.95 420.73h3.1v3.1h-3.1zM320.74 420.73h3.1v3.1h-3.1zM326.53 420.73h3.1v3.1h-3.1zM384.43 420.73h3.1v3.1h-3.1zM390.22 420.73h3.1v3.1h-3.1zM396.01 420.73h3.1v3.1h-3.1zM314.95 426.49h3.1v3.1h-3.1zM320.74 426.49h3.1v3.1h-3.1zM326.53 426.49h3.1v3.1h-3.1zM384.43 426.49h3.1v3.1h-3.1zM390.22 426.49h3.1v3.1h-3.1zM396.01 426.49h3.1v3.1h-3.1zM314.95 432.25h3.1v3.1h-3.1zM320.74 432.25h3.1v3.1h-3.1zM326.53 432.25h3.1v3.1h-3.1zM384.43 432.25h3.1v3.1h-3.1zM390.22 432.25h3.1v3.1h-3.1zM396.01 432.25h3.1v3.1h-3.1zM314.95 438.01h3.1v3.1h-3.1zM320.74 438.01h3.1v3.1h-3.1zM326.53 438.01h3.1v3.1h-3.1zM384.43 438.01h3.1v3.1h-3.1zM390.22 438.01h3.1v3.1h-3.1zM396.01 438.01h3.1v3.1h-3.1zM314.95 443.77h3.1v3.1h-3.1zM320.74 443.77h3.1v3.1h-3.1zM326.53 443.77h3.1v3.1h-3.1zM332.32 443.77h3.1v3.1h-3.1zM338.11 443.77h3.1v3.1h-3.1zM343.90 443.77h3.1v3.1h-3.1zM349.69 443.77h3.1v3.1h-3.1zM355.48 443.77h3.1v3.1h-3.1zM361.27 443.77h3.1v3.1h-3.1zM367.06 443.77h3.1v3.1h-3.1zM372.85 443.77h3.1v3.1h-3.1zM378.64 443.77h3.1v3.1h-3.1zM384.43 443.77h3.1v3.1h-3.1zM390.22 443.77h3.1v3.1h-3.1zM396.01 443.77h3.1v3.1h-3.1zM314.95 449.53h3.1v3.1h-3.1zM320.74 449.53h3.1v3.1h-3.1zM326.53 449.53h3.1v3.1h-3.1zM332.32 449.53h3.1v3.1h-3.1zM338.11 449.53h3.1v3.1h-3.1zM343.90 449.53h3.1v3.1h-3.1zM349.69 449.53h3.1v3.1h-3.1zM355.48 449.53h3.1v3.1h-3.1zM361.27 449.53h3.1v3.1h-3.1zM367.06 449.53h3.1v3.1h-3.1zM372.85 449.53h3.1v3.1h-3.1zM378.64 449.53h3.1v3.1h-3.1zM384.43 449.53h3.1v3.1h-3.1zM390.22 449.53h3.1v3.1h-3.1zM396.01 449.53h3.1v3.1h-3.1zM314.95 455.29h3.1v3.1h-3.1zM320.74 455.29h3.1v3.1h-3.1zM326.53 455.29h3.1v3.1h-3.1zM332.32 455.29h3.1v3.1h-3.1zM338.11 455.29h3.1v3.1h-3.1zM343.90 455.29h3.1v3.1h-3.1zM349.69 455.29h3.1v3.1h-3.1zM355.48 455.29h3.1v3.1h-3.1zM361.27 455.29h3.1v3.1h-3.1zM367.06 455.29h3.1v3.1h-3.1zM372.85 455.29h3.1v3.1h-3.1zM378.64 455.29h3.1v3.1h-3.1zM384.43 455.29h3.1v3.1h-3.1zM390.22 455.29h3.1v3.1h-3.1zM396.01 455.29h3.1v3.1h-3.1z" fill="#fff" shape-rendering="crispEdges"/>
<rect x="334" y="394.2" width="46.1" height="44.9" fill="#fff" />
<circle cx="337.7" cy="397.8" r="2" fill="#000"/>
<rect x="340.9" y="407" width="33.5" height="19" rx="3.5" fill="#000" class="aa"/>
<rect x="342.4" y="408.5" width="30.5" height="16" rx="2.3" fill="#fff" class="aa"/>
<text transform="scale(0.720,1)" x="477.98 492.14 504.51" y="421.3" font-size="15" fill="#000" font-weight="normal">NPU</text>
<g shape-rendering="crispEdges">
<rect x="48" y="28" width="19" height="13" fill="#000" />
<rect x="49" y="29" width="1" height="4" fill="#fff" />
<rect x="54" y="29" width="2" height="4" fill="#fff" />
<rect x="60" y="29" width="1" height="4" fill="#fff" />
<rect x="49" y="35" width="1" height="5" fill="#fff" />
<rect x="54" y="35" width="2" height="5" fill="#fff" />
<rect x="60" y="35" width="1" height="5" fill="#fff" />
<rect x="51" y="30" width="2" height="2" fill="#fff" />
<rect x="51" y="36" width="2" height="3" fill="#fff" />
<rect x="46" y="380" width="26" height="7" fill="#000" />
<rect x="47" y="381" width="24" height="5" fill="#fff" />
<rect x="48" y="382" width="5" height="5" fill="#000" />
<rect x="54" y="382" width="4" height="5" fill="#000" />
<rect x="60" y="382" width="4" height="5" fill="#000" />
<rect x="66" y="382" width="4" height="5" fill="#000" />
<rect x="49" y="383" width="3" height="2" fill="#fff" />
<rect x="100" y="380" width="14" height="7" fill="#000" />
<rect x="101" y="381" width="1.2" height="5" fill="#fff" />
<rect x="107" y="381" width="1.2" height="5" fill="#fff" />
<rect x="112" y="381" width="1.2" height="5" fill="#fff" />
<rect x="151" y="394" width="13" height="7" fill="#000" />
<rect x="152" y="395" width="11" height="1" fill="#fff" />
<rect x="157" y="396" width="1.2" height="4" fill="#fff" />
<rect x="48" y="421" width="31" height="13" fill="#000" />
<rect x="49" y="422" width="29" height="11" fill="#fff" />
<rect x="50" y="423" width="4" height="4" fill="#000" />
<rect x="50" y="429" width="4" height="5" fill="#000" />
<rect x="56" y="423" width="4" height="4" fill="#000" />
<rect x="56" y="429" width="4" height="5" fill="#000" />
<rect x="62" y="423" width="4" height="4" fill="#000" />
<rect x="62" y="429" width="4" height="5" fill="#000" />
<rect x="67" y="423" width="5" height="4" fill="#000" />
<rect x="67" y="429" width="5" height="5" fill="#000" />
<rect x="73" y="423" width="5" height="4" fill="#000" />
<rect x="73" y="429" width="5" height="5" fill="#000" />
<rect x="51" y="430" width="2" height="2" fill="#fff" />
<rect x="211.9" y="500" width="19.1" height="7" fill="#000" />
<rect x="212.9" y="501" width="1" height="5" fill="#fff" />
<rect x="218" y="501" width="1.9" height="5" fill="#fff" />
<rect x="224" y="501" width="2.1" height="5" fill="#fff" />
<rect x="286" y="508" width="19" height="7" fill="#000" />
<rect x="287" y="513" width="17" height="1" fill="#fff" />
<rect x="287" y="509" width="1.1" height="4" fill="#fff" />
<rect x="292" y="509" width="1.1" height="4" fill="#fff" />
<rect x="298" y="509" width="1.1" height="4" fill="#fff" />
</g>
<g shape-rendering="crispEdges">
<rect x="518.1" y="395" width="18.9" height="7" fill="#000" />
<rect x="519" y="396" width="17.1" height="5" fill="#fff" />
<rect x="519" y="396" width="3.9" height="4" fill="#000" />
<rect x="524.8" y="396" width="4.3" height="4" fill="#000" />
<rect x="530" y="396" width="5.1" height="4" fill="#000" />
<rect x="531" y="397" width="3.1" height="2" fill="#fff" />
<rect x="518.1" y="417" width="18.9" height="7" fill="#000" />
<rect x="519" y="418" width="17.1" height="5" fill="#fff" />
<rect x="519" y="418" width="3.9" height="4" fill="#000" />
<rect x="524.8" y="418" width="4.3" height="4" fill="#000" />
<rect x="530" y="418" width="5.1" height="4" fill="#000" />
<rect x="531" y="419" width="3.1" height="2" fill="#fff" />
<rect x="518.1" y="406" width="18.9" height="6" fill="#000" />
<rect x="522.9" y="407" width="1.9" height="4" fill="#fff" />
<rect x="529" y="407" width="1" height="4" fill="#fff" />
<rect x="531" y="408" width="3.1" height="2" fill="#fff" />
<rect x="535.1" y="407" width="1" height="4" fill="#fff" />
<rect x="446" y="480" width="19" height="7" fill="#000" />
<rect x="452" y="481" width="1.1" height="5" fill="#fff" />
<rect x="457" y="481" width="2" height="5" fill="#fff" />
<rect x="460" y="482" width="2" height="3" fill="#fff" />
<rect x="463" y="481" width="1.1" height="5" fill="#fff" />
<rect x="567" y="399" width="39" height="20" fill="#000" />
<rect x="568" y="400" width="37" height="18" fill="#fff" />
<rect x="573" y="403" width="6" height="11" fill="#000" />
<rect x="580" y="403" width="6" height="11" fill="#000" />
<rect x="588" y="403" width="6" height="11" fill="#000" />
<rect x="595" y="403" width="6" height="11" fill="#000" />
<rect x="780" y="167" width="19" height="39" fill="#000" />
<rect x="781" y="168" width="17" height="37" fill="#fff" />
<rect x="784" y="173" width="11" height="6" fill="#000" />
<rect x="784" y="180" width="11" height="6" fill="#000" />
<rect x="784" y="188" width="11" height="6" fill="#000" />
<rect x="784" y="195" width="11" height="6" fill="#000" />
<rect x="780" y="240" width="19" height="39" fill="#000" />
<rect x="781" y="241" width="17" height="37" fill="#fff" />
<rect x="784" y="246" width="11" height="6" fill="#000" />
<rect x="784" y="253" width="11" height="6" fill="#000" />
<rect x="784" y="261" width="11" height="6" fill="#000" />
<rect x="784" y="268" width="11" height="6" fill="#000" />
<rect x="637" y="397" width="112.4" height="24" fill="#000" />
<rect x="638" y="398" width="110.4" height="22" fill="#fff" />
<rect x="637" y="404" width="112.4" height="1" fill="#000" />
<rect x="640.4" y="400" width="3.3" height="1" fill="#000" />
<rect x="639.1" y="401" width="6.7" height="2" fill="#000" />
<rect x="640.1" y="403" width="4.7" height="1" fill="#000" />
<rect x="639.1" y="407" width="6.6" height="3" fill="#000" />
<rect x="640.9" y="408" width="0.9" height="1" fill="#fff" />
<rect x="642.7" y="408" width="0.9" height="1" fill="#fff" />
<rect x="649.55" y="400" width="3.3" height="1" fill="#000" />
<rect x="648.25" y="401" width="6.7" height="2" fill="#000" />
<rect x="649.25" y="403" width="4.7" height="1" fill="#000" />
<rect x="648.25" y="407" width="6.6" height="3" fill="#000" />
<rect x="649.45" y="408" width="0.9" height="1" fill="#fff" />
<rect x="651.15" y="408" width="0.9" height="1" fill="#fff" />
<rect x="652.85" y="408" width="0.9" height="1" fill="#fff" />
<rect x="658.7" y="400" width="3.3" height="1" fill="#000" />
<rect x="657.4" y="401" width="6.7" height="2" fill="#000" />
<rect x="658.4" y="403" width="4.7" height="1" fill="#000" />
<rect x="657.4" y="407" width="6.6" height="3" fill="#000" />
<rect x="659.2" y="408" width="0.9" height="1" fill="#fff" />
<rect x="661" y="408" width="0.9" height="1" fill="#fff" />
<rect x="667.85" y="400" width="3.3" height="1" fill="#000" />
<rect x="666.55" y="401" width="6.7" height="2" fill="#000" />
<rect x="667.55" y="403" width="4.7" height="1" fill="#000" />
<rect x="666.55" y="407" width="6.6" height="3" fill="#000" />
<rect x="667.75" y="408" width="0.9" height="1" fill="#fff" />
<rect x="669.45" y="408" width="0.9" height="1" fill="#fff" />
<rect x="671.15" y="408" width="0.9" height="1" fill="#fff" />
<rect x="677" y="400" width="3.3" height="1" fill="#000" />
<rect x="675.7" y="401" width="6.7" height="2" fill="#000" />
<rect x="676.7" y="403" width="4.7" height="1" fill="#000" />
<rect x="675.7" y="407" width="6.6" height="3" fill="#000" />
<rect x="677.5" y="408" width="0.9" height="1" fill="#fff" />
<rect x="679.3" y="408" width="0.9" height="1" fill="#fff" />
<rect x="686.15" y="400" width="3.3" height="1" fill="#000" />
<rect x="684.85" y="401" width="6.7" height="2" fill="#000" />
<rect x="685.85" y="403" width="4.7" height="1" fill="#000" />
<rect x="684.85" y="407" width="6.6" height="3" fill="#000" />
<rect x="686.05" y="408" width="0.9" height="1" fill="#fff" />
<rect x="687.75" y="408" width="0.9" height="1" fill="#fff" />
<rect x="689.45" y="408" width="0.9" height="1" fill="#fff" />
<rect x="695.3" y="400" width="3.3" height="1" fill="#000" />
<rect x="694" y="401" width="6.7" height="2" fill="#000" />
<rect x="695" y="403" width="4.7" height="1" fill="#000" />
<rect x="694" y="407" width="6.6" height="3" fill="#000" />
<rect x="695.8" y="408" width="0.9" height="1" fill="#fff" />
<rect x="697.6" y="408" width="0.9" height="1" fill="#fff" />
<rect x="704.45" y="400" width="3.3" height="1" fill="#000" />
<rect x="703.15" y="401" width="6.7" height="2" fill="#000" />
<rect x="704.15" y="403" width="4.7" height="1" fill="#000" />
<rect x="703.15" y="407" width="6.6" height="3" fill="#000" />
<rect x="704.35" y="408" width="0.9" height="1" fill="#fff" />
<rect x="706.05" y="408" width="0.9" height="1" fill="#fff" />
<rect x="707.75" y="408" width="0.9" height="1" fill="#fff" />
<rect x="713.6" y="400" width="3.3" height="1" fill="#000" />
<rect x="712.3" y="401" width="6.7" height="2" fill="#000" />
<rect x="713.3" y="403" width="4.7" height="1" fill="#000" />
<rect x="712.3" y="407" width="6.6" height="3" fill="#000" />
<rect x="714.1" y="408" width="0.9" height="1" fill="#fff" />
<rect x="715.9" y="408" width="0.9" height="1" fill="#fff" />
<rect x="722.75" y="400" width="3.3" height="1" fill="#000" />
<rect x="721.45" y="401" width="6.7" height="2" fill="#000" />
<rect x="722.45" y="403" width="4.7" height="1" fill="#000" />
<rect x="721.45" y="407" width="6.6" height="3" fill="#000" />
<rect x="722.65" y="408" width="0.9" height="1" fill="#fff" />
<rect x="724.35" y="408" width="0.9" height="1" fill="#fff" />
<rect x="726.05" y="408" width="0.9" height="1" fill="#fff" />
<rect x="731.9" y="400" width="3.3" height="1" fill="#000" />
<rect x="730.6" y="401" width="6.7" height="2" fill="#000" />
<rect x="731.6" y="403" width="4.7" height="1" fill="#000" />
<rect x="730.6" y="407" width="6.6" height="3" fill="#000" />
<rect x="732.4" y="408" width="0.9" height="1" fill="#fff" />
<rect x="734.2" y="408" width="0.9" height="1" fill="#fff" />
<rect x="741.05" y="400" width="3.3" height="1" fill="#000" />
<rect x="739.75" y="401" width="6.7" height="2" fill="#000" />
<rect x="740.75" y="403" width="4.7" height="1" fill="#000" />
<rect x="739.75" y="407" width="6.6" height="3" fill="#000" />
<rect x="740.95" y="408" width="0.9" height="1" fill="#fff" />
<rect x="742.65" y="408" width="0.9" height="1" fill="#fff" />
<rect x="744.35" y="408" width="0.9" height="1" fill="#fff" />
<rect x="643.1" y="411" width="6.7" height="7" fill="#000" />
<rect x="644.1" y="412" width="4.7" height="5" fill="#fff" />
<rect x="652.4" y="411" width="6.7" height="7" fill="#000" />
<rect x="653.4" y="412" width="4.7" height="5" fill="#fff" />
<rect x="661.7" y="411" width="6.7" height="7" fill="#000" />
<rect x="662.7" y="412" width="4.7" height="5" fill="#fff" />
<rect x="671" y="411" width="6.7" height="7" fill="#000" />
<rect x="672" y="412" width="4.7" height="5" fill="#fff" />
<rect x="680.3" y="411" width="6.7" height="7" fill="#000" />
<rect x="681.3" y="412" width="4.7" height="5" fill="#fff" />
<rect x="689.6" y="411" width="6.7" height="7" fill="#000" />
<rect x="690.6" y="412" width="4.7" height="5" fill="#fff" />
<rect x="698.9" y="411" width="6.7" height="7" fill="#000" />
<rect x="699.9" y="412" width="4.7" height="5" fill="#fff" />
<rect x="708.2" y="411" width="6.7" height="7" fill="#000" />
<rect x="709.2" y="412" width="4.7" height="5" fill="#fff" />
<rect x="717.5" y="411" width="6.7" height="7" fill="#000" />
<rect x="718.5" y="412" width="4.7" height="5" fill="#fff" />
<rect x="726.8" y="411" width="6.7" height="7" fill="#000" />
<rect x="727.8" y="412" width="4.7" height="5" fill="#fff" />
<rect x="736.1" y="411" width="6.7" height="7" fill="#000" />
<rect x="737.1" y="412" width="4.7" height="5" fill="#fff" />
<rect x="637" y="411" width="2.4" height="2.6" fill="#000" />
<rect x="637" y="413.6" width="1" height="1.7" fill="#fff" />
<rect x="637" y="415.3" width="2.4" height="2.7" fill="#000" />
<rect x="637.9" y="416" width="0.9" height="1" fill="#fff" />
<rect x="746.4" y="411" width="3" height="2.6" fill="#000" />
<rect x="748.2" y="413.6" width="1.2" height="1.7" fill="#fff" />
<rect x="746.4" y="415.3" width="3" height="2.7" fill="#000" />
<rect x="747.3" y="416" width="1" height="1" fill="#fff" />
</g>
<g shape-rendering="crispEdges">
<rect x="523" y="440" width="226" height="19" fill="#000" />
<rect x="524" y="441" width="224" height="17" fill="#fff" />
<rect x="530.1" y="440" width="3.8" height="16.8" fill="#000" />
<rect x="523" y="445.8" width="7.1" height="1" fill="#000" />
<rect x="523" y="453.2" width="7.1" height="1" fill="#000" />
<path d="M534 444.5H536.5V447.5H541.5V445.5H543.5V454.5H534M541.5 440V447.5" fill="none" stroke="#000" stroke-width="1"/>
<rect x="548" y="442" width="175" height="14" fill="#000" />
<path d="M551.80 443h1.9v4h-1.9zM557.75 443h1.9v4h-1.9zM563.71 443h1.9v4h-1.9zM569.66 443h1.9v4h-1.9zM575.62 443h1.9v4h-1.9zM581.57 443h1.9v4h-1.9zM587.53 443h1.9v4h-1.9zM593.48 443h1.9v4h-1.9zM599.44 443h1.9v4h-1.9zM605.39 443h1.9v4h-1.9zM611.35 443h1.9v4h-1.9zM617.30 443h1.9v4h-1.9zM623.26 443h1.9v4h-1.9zM629.21 443h1.9v4h-1.9zM635.17 443h1.9v4h-1.9zM641.12 443h1.9v4h-1.9zM647.08 443h1.9v4h-1.9zM653.03 443h1.9v4h-1.9zM658.99 443h1.9v4h-1.9zM664.94 443h1.9v4h-1.9zM670.90 443h1.9v4h-1.9zM676.86 443h1.9v4h-1.9zM682.81 443h1.9v4h-1.9zM688.76 443h1.9v4h-1.9zM694.72 443h1.9v4h-1.9zM700.67 443h1.9v4h-1.9zM706.63 443h1.9v4h-1.9zM712.58 443h1.9v4h-1.9zM718.54 443h1.9v4h-1.9z" fill="#fff"/>
<path d="M550.80 449h3.9v6h-3.9zM556.75 449h3.9v6h-3.9zM562.71 449h3.9v6h-3.9zM568.66 449h3.9v6h-3.9zM574.62 449h3.9v6h-3.9zM580.57 449h3.9v6h-3.9zM586.53 449h3.9v6h-3.9zM592.48 449h3.9v6h-3.9zM598.44 449h3.9v6h-3.9zM604.39 449h3.9v6h-3.9zM610.35 449h3.9v6h-3.9zM616.30 449h3.9v6h-3.9zM622.26 449h3.9v6h-3.9zM628.21 449h3.9v6h-3.9zM634.17 449h3.9v6h-3.9zM640.12 449h3.9v6h-3.9zM646.08 449h3.9v6h-3.9zM652.03 449h3.9v6h-3.9zM657.99 449h3.9v6h-3.9zM663.94 449h3.9v6h-3.9zM669.90 449h3.9v6h-3.9zM675.86 449h3.9v6h-3.9zM681.81 449h3.9v6h-3.9zM687.76 449h3.9v6h-3.9zM693.72 449h3.9v6h-3.9zM699.67 449h3.9v6h-3.9zM705.63 449h3.9v6h-3.9zM711.58 449h3.9v6h-3.9zM717.54 449h3.9v6h-3.9z" fill="#fff"/>
<rect x="737.2" y="440" width="3.7" height="16.8" fill="#000" />
<rect x="740.9" y="446.8" width="8.1" height="1.1" fill="#000" />
<rect x="740.9" y="453.8" width="8.1" height="1" fill="#000" />
<path d="M737.2 445.5H734.5V447.5H730.5V440M730.5 445.5H727.5V455.5H737.2" fill="none" stroke="#000" stroke-width="1"/>
<rect x="523" y="460" width="226" height="19" fill="#000" />
<rect x="524" y="461" width="224" height="17" fill="#fff" />
<rect x="530.1" y="460" width="3.8" height="16.8" fill="#000" />
<rect x="523" y="465.8" width="7.1" height="1" fill="#000" />
<rect x="523" y="473.2" width="7.1" height="1" fill="#000" />
<path d="M534 464.5H536.5V467.5H541.5V465.5H543.5V474.5H534M541.5 460V467.5" fill="none" stroke="#000" stroke-width="1"/>
<rect x="548" y="462" width="175" height="14" fill="#000" />
<path d="M551.80 463h1.9v4h-1.9zM557.75 463h1.9v4h-1.9zM563.71 463h1.9v4h-1.9zM569.66 463h1.9v4h-1.9zM575.62 463h1.9v4h-1.9zM581.57 463h1.9v4h-1.9zM587.53 463h1.9v4h-1.9zM593.48 463h1.9v4h-1.9zM599.44 463h1.9v4h-1.9zM605.39 463h1.9v4h-1.9zM611.35 463h1.9v4h-1.9zM617.30 463h1.9v4h-1.9zM623.26 463h1.9v4h-1.9zM629.21 463h1.9v4h-1.9zM635.17 463h1.9v4h-1.9zM641.12 463h1.9v4h-1.9zM647.08 463h1.9v4h-1.9zM653.03 463h1.9v4h-1.9zM658.99 463h1.9v4h-1.9zM664.94 463h1.9v4h-1.9zM670.90 463h1.9v4h-1.9zM676.86 463h1.9v4h-1.9zM682.81 463h1.9v4h-1.9zM688.76 463h1.9v4h-1.9zM694.72 463h1.9v4h-1.9zM700.67 463h1.9v4h-1.9zM706.63 463h1.9v4h-1.9zM712.58 463h1.9v4h-1.9zM718.54 463h1.9v4h-1.9z" fill="#fff"/>
<path d="M550.80 469h3.9v6h-3.9zM556.75 469h3.9v6h-3.9zM562.71 469h3.9v6h-3.9zM568.66 469h3.9v6h-3.9zM574.62 469h3.9v6h-3.9zM580.57 469h3.9v6h-3.9zM586.53 469h3.9v6h-3.9zM592.48 469h3.9v6h-3.9zM598.44 469h3.9v6h-3.9zM604.39 469h3.9v6h-3.9zM610.35 469h3.9v6h-3.9zM616.30 469h3.9v6h-3.9zM622.26 469h3.9v6h-3.9zM628.21 469h3.9v6h-3.9zM634.17 469h3.9v6h-3.9zM640.12 469h3.9v6h-3.9zM646.08 469h3.9v6h-3.9zM652.03 469h3.9v6h-3.9zM657.99 469h3.9v6h-3.9zM663.94 469h3.9v6h-3.9zM669.90 469h3.9v6h-3.9zM675.86 469h3.9v6h-3.9zM681.81 469h3.9v6h-3.9zM687.76 469h3.9v6h-3.9zM693.72 469h3.9v6h-3.9zM699.67 469h3.9v6h-3.9zM705.63 469h3.9v6h-3.9zM711.58 469h3.9v6h-3.9zM717.54 469h3.9v6h-3.9z" fill="#fff"/>
<path d="M549.50 476h4.4v1h-4.4zM555.46 476h4.4v1h-4.4zM561.41 476h4.4v1h-4.4zM567.37 476h4.4v1h-4.4zM573.32 476h4.4v1h-4.4zM579.27 476h4.4v1h-4.4zM585.23 476h4.4v1h-4.4zM591.18 476h4.4v1h-4.4zM597.14 476h4.4v1h-4.4zM603.10 476h4.4v1h-4.4zM609.05 476h4.4v1h-4.4zM615.00 476h4.4v1h-4.4zM620.96 476h4.4v1h-4.4zM626.91 476h4.4v1h-4.4zM632.87 476h4.4v1h-4.4zM638.83 476h4.4v1h-4.4zM644.78 476h4.4v1h-4.4zM650.74 476h4.4v1h-4.4zM656.69 476h4.4v1h-4.4zM662.64 476h4.4v1h-4.4zM668.60 476h4.4v1h-4.4zM674.56 476h4.4v1h-4.4zM680.51 476h4.4v1h-4.4zM686.47 476h4.4v1h-4.4zM692.42 476h4.4v1h-4.4zM698.38 476h4.4v1h-4.4zM704.33 476h4.4v1h-4.4zM710.28 476h4.4v1h-4.4zM716.24 476h4.4v1h-4.4z" fill="#000"/>
<rect x="737.2" y="460" width="3.7" height="16.8" fill="#000" />
<rect x="740.9" y="466.8" width="8.1" height="1.1" fill="#000" />
<rect x="740.9" y="473.8" width="8.1" height="1" fill="#000" />
<path d="M737.2 465.5H734.5V467.5H730.5V460M730.5 465.5H727.5V475.5H737.2" fill="none" stroke="#000" stroke-width="1"/>
<rect x="523" y="480" width="226" height="19" fill="#000" />
<rect x="524" y="481" width="224" height="17" fill="#fff" />
<rect x="530.1" y="480" width="3.8" height="16.8" fill="#000" />
<rect x="523" y="485.8" width="7.1" height="1" fill="#000" />
<rect x="523" y="493.2" width="7.1" height="1" fill="#000" />
<path d="M534 484.5H536.5V487.5H541.5V485.5H543.5V494.5H534M541.5 480V487.5" fill="none" stroke="#000" stroke-width="1"/>
<rect x="548" y="482" width="175" height="14" fill="#000" />
<path d="M551.80 483h1.9v4h-1.9zM557.75 483h1.9v4h-1.9zM563.71 483h1.9v4h-1.9zM569.66 483h1.9v4h-1.9zM575.62 483h1.9v4h-1.9zM581.57 483h1.9v4h-1.9zM587.53 483h1.9v4h-1.9zM593.48 483h1.9v4h-1.9zM599.44 483h1.9v4h-1.9zM605.39 483h1.9v4h-1.9zM611.35 483h1.9v4h-1.9zM617.30 483h1.9v4h-1.9zM623.26 483h1.9v4h-1.9zM629.21 483h1.9v4h-1.9zM635.17 483h1.9v4h-1.9zM641.12 483h1.9v4h-1.9zM647.08 483h1.9v4h-1.9zM653.03 483h1.9v4h-1.9zM658.99 483h1.9v4h-1.9zM664.94 483h1.9v4h-1.9zM670.90 483h1.9v4h-1.9zM676.86 483h1.9v4h-1.9zM682.81 483h1.9v4h-1.9zM688.76 483h1.9v4h-1.9zM694.72 483h1.9v4h-1.9zM700.67 483h1.9v4h-1.9zM706.63 483h1.9v4h-1.9zM712.58 483h1.9v4h-1.9zM718.54 483h1.9v4h-1.9z" fill="#fff"/>
<path d="M550.80 489h3.9v6h-3.9zM556.75 489h3.9v6h-3.9zM562.71 489h3.9v6h-3.9zM568.66 489h3.9v6h-3.9zM574.62 489h3.9v6h-3.9zM580.57 489h3.9v6h-3.9zM586.53 489h3.9v6h-3.9zM592.48 489h3.9v6h-3.9zM598.44 489h3.9v6h-3.9zM604.39 489h3.9v6h-3.9zM610.35 489h3.9v6h-3.9zM616.30 489h3.9v6h-3.9zM622.26 489h3.9v6h-3.9zM628.21 489h3.9v6h-3.9zM634.17 489h3.9v6h-3.9zM640.12 489h3.9v6h-3.9zM646.08 489h3.9v6h-3.9zM652.03 489h3.9v6h-3.9zM657.99 489h3.9v6h-3.9zM663.94 489h3.9v6h-3.9zM669.90 489h3.9v6h-3.9zM675.86 489h3.9v6h-3.9zM681.81 489h3.9v6h-3.9zM687.76 489h3.9v6h-3.9zM693.72 489h3.9v6h-3.9zM699.67 489h3.9v6h-3.9zM705.63 489h3.9v6h-3.9zM711.58 489h3.9v6h-3.9zM717.54 489h3.9v6h-3.9z" fill="#fff"/>
<rect x="737.2" y="480" width="3.7" height="16.8" fill="#000" />
<rect x="740.9" y="486.8" width="8.1" height="1.1" fill="#000" />
<rect x="740.9" y="493.8" width="8.1" height="1" fill="#000" />
<path d="M737.2 485.5H734.5V487.5H730.5V480M730.5 485.5H727.5V495.5H737.2" fill="none" stroke="#000" stroke-width="1"/>
<rect x="523" y="500" width="226" height="19" fill="#000" />
<rect x="524" y="501" width="224" height="17" fill="#fff" />
<rect x="530.1" y="500" width="3.8" height="16.8" fill="#000" />
<rect x="523" y="505.8" width="7.1" height="1" fill="#000" />
<rect x="523" y="513.2" width="7.1" height="1" fill="#000" />
<path d="M534 504.5H536.5V507.5H541.5V505.5H543.5V514.5H534M541.5 500V507.5" fill="none" stroke="#000" stroke-width="1"/>
<rect x="548" y="502" width="175" height="14" fill="#000" />
<path d="M551.80 503h1.9v4h-1.9zM557.75 503h1.9v4h-1.9zM563.71 503h1.9v4h-1.9zM569.66 503h1.9v4h-1.9zM575.62 503h1.9v4h-1.9zM581.57 503h1.9v4h-1.9zM587.53 503h1.9v4h-1.9zM593.48 503h1.9v4h-1.9zM599.44 503h1.9v4h-1.9zM605.39 503h1.9v4h-1.9zM611.35 503h1.9v4h-1.9zM617.30 503h1.9v4h-1.9zM623.26 503h1.9v4h-1.9zM629.21 503h1.9v4h-1.9zM635.17 503h1.9v4h-1.9zM641.12 503h1.9v4h-1.9zM647.08 503h1.9v4h-1.9zM653.03 503h1.9v4h-1.9zM658.99 503h1.9v4h-1.9zM664.94 503h1.9v4h-1.9zM670.90 503h1.9v4h-1.9zM676.86 503h1.9v4h-1.9zM682.81 503h1.9v4h-1.9zM688.76 503h1.9v4h-1.9zM694.72 503h1.9v4h-1.9zM700.67 503h1.9v4h-1.9zM706.63 503h1.9v4h-1.9zM712.58 503h1.9v4h-1.9zM718.54 503h1.9v4h-1.9z" fill="#fff"/>
<path d="M550.80 509h3.9v6h-3.9zM556.75 509h3.9v6h-3.9zM562.71 509h3.9v6h-3.9zM568.66 509h3.9v6h-3.9zM574.62 509h3.9v6h-3.9zM580.57 509h3.9v6h-3.9zM586.53 509h3.9v6h-3.9zM592.48 509h3.9v6h-3.9zM598.44 509h3.9v6h-3.9zM604.39 509h3.9v6h-3.9zM610.35 509h3.9v6h-3.9zM616.30 509h3.9v6h-3.9zM622.26 509h3.9v6h-3.9zM628.21 509h3.9v6h-3.9zM634.17 509h3.9v6h-3.9zM640.12 509h3.9v6h-3.9zM646.08 509h3.9v6h-3.9zM652.03 509h3.9v6h-3.9zM657.99 509h3.9v6h-3.9zM663.94 509h3.9v6h-3.9zM669.90 509h3.9v6h-3.9zM675.86 509h3.9v6h-3.9zM681.81 509h3.9v6h-3.9zM687.76 509h3.9v6h-3.9zM693.72 509h3.9v6h-3.9zM699.67 509h3.9v6h-3.9zM705.63 509h3.9v6h-3.9zM711.58 509h3.9v6h-3.9zM717.54 509h3.9v6h-3.9z" fill="#fff"/>
<rect x="737.2" y="500" width="3.7" height="16.8" fill="#000" />
<rect x="740.9" y="506.8" width="8.1" height="1.1" fill="#000" />
<rect x="740.9" y="513.8" width="8.1" height="1" fill="#000" />
<path d="M737.2 505.5H734.5V507.5H730.5V500M730.5 505.5H727.5V515.5H737.2" fill="none" stroke="#000" stroke-width="1"/>
<rect x="523" y="520" width="226" height="19.5" fill="#000" />
<rect x="524" y="521" width="224" height="17.5" fill="#fff" />
<rect x="530.1" y="520" width="3.8" height="16.8" fill="#000" />
<rect x="523" y="525.8" width="7.1" height="1" fill="#000" />
<rect x="523" y="533.2" width="7.1" height="1" fill="#000" />
<path d="M534 524.5H536.5V527.5H541.5V525.5H543.5V534.5H534M541.5 520V527.5" fill="none" stroke="#000" stroke-width="1"/>
<rect x="548" y="522" width="175" height="14" fill="#000" />
<path d="M551.80 523h1.9v4h-1.9zM557.75 523h1.9v4h-1.9zM563.71 523h1.9v4h-1.9zM569.66 523h1.9v4h-1.9zM575.62 523h1.9v4h-1.9zM581.57 523h1.9v4h-1.9zM587.53 523h1.9v4h-1.9zM593.48 523h1.9v4h-1.9zM599.44 523h1.9v4h-1.9zM605.39 523h1.9v4h-1.9zM611.35 523h1.9v4h-1.9zM617.30 523h1.9v4h-1.9zM623.26 523h1.9v4h-1.9zM629.21 523h1.9v4h-1.9zM635.17 523h1.9v4h-1.9zM641.12 523h1.9v4h-1.9zM647.08 523h1.9v4h-1.9zM653.03 523h1.9v4h-1.9zM658.99 523h1.9v4h-1.9zM664.94 523h1.9v4h-1.9zM670.90 523h1.9v4h-1.9zM676.86 523h1.9v4h-1.9zM682.81 523h1.9v4h-1.9zM688.76 523h1.9v4h-1.9zM694.72 523h1.9v4h-1.9zM700.67 523h1.9v4h-1.9zM706.63 523h1.9v4h-1.9zM712.58 523h1.9v4h-1.9zM718.54 523h1.9v4h-1.9z" fill="#fff"/>
<path d="M550.80 529h3.9v6h-3.9zM556.75 529h3.9v6h-3.9zM562.71 529h3.9v6h-3.9zM568.66 529h3.9v6h-3.9zM574.62 529h3.9v6h-3.9zM580.57 529h3.9v6h-3.9zM586.53 529h3.9v6h-3.9zM592.48 529h3.9v6h-3.9zM598.44 529h3.9v6h-3.9zM604.39 529h3.9v6h-3.9zM610.35 529h3.9v6h-3.9zM616.30 529h3.9v6h-3.9zM622.26 529h3.9v6h-3.9zM628.21 529h3.9v6h-3.9zM634.17 529h3.9v6h-3.9zM640.12 529h3.9v6h-3.9zM646.08 529h3.9v6h-3.9zM652.03 529h3.9v6h-3.9zM657.99 529h3.9v6h-3.9zM663.94 529h3.9v6h-3.9zM669.90 529h3.9v6h-3.9zM675.86 529h3.9v6h-3.9zM681.81 529h3.9v6h-3.9zM687.76 529h3.9v6h-3.9zM693.72 529h3.9v6h-3.9zM699.67 529h3.9v6h-3.9zM705.63 529h3.9v6h-3.9zM711.58 529h3.9v6h-3.9zM717.54 529h3.9v6h-3.9z" fill="#fff"/>
<path d="M549.50 536h4.4v1h-4.4zM555.46 536h4.4v1h-4.4zM561.41 536h4.4v1h-4.4zM567.37 536h4.4v1h-4.4zM573.32 536h4.4v1h-4.4zM579.27 536h4.4v1h-4.4zM585.23 536h4.4v1h-4.4zM591.18 536h4.4v1h-4.4zM597.14 536h4.4v1h-4.4zM603.10 536h4.4v1h-4.4zM609.05 536h4.4v1h-4.4zM615.00 536h4.4v1h-4.4zM620.96 536h4.4v1h-4.4zM626.91 536h4.4v1h-4.4zM632.87 536h4.4v1h-4.4zM638.83 536h4.4v1h-4.4zM644.78 536h4.4v1h-4.4zM650.74 536h4.4v1h-4.4zM656.69 536h4.4v1h-4.4zM662.64 536h4.4v1h-4.4zM668.60 536h4.4v1h-4.4zM674.56 536h4.4v1h-4.4zM680.51 536h4.4v1h-4.4zM686.47 536h4.4v1h-4.4zM692.42 536h4.4v1h-4.4zM698.38 536h4.4v1h-4.4zM704.33 536h4.4v1h-4.4zM710.28 536h4.4v1h-4.4zM716.24 536h4.4v1h-4.4z" fill="#000"/>
<rect x="737.2" y="520" width="3.7" height="16.8" fill="#000" />
<rect x="740.9" y="526.8" width="8.1" height="1.1" fill="#000" />
<rect x="740.9" y="533.8" width="8.1" height="1" fill="#000" />
<path d="M737.2 525.5H734.5V527.5H730.5V520M730.5 525.5H727.5V535.5H737.2" fill="none" stroke="#000" stroke-width="1"/>
<rect x="523" y="540.8" width="226" height="19" fill="#000" />
<rect x="524" y="541.8" width="224" height="17" fill="#fff" />
<rect x="530.1" y="540.8" width="3.8" height="16.8" fill="#000" />
<rect x="523" y="546.6" width="7.1" height="1" fill="#000" />
<rect x="523" y="554" width="7.1" height="1" fill="#000" />
<path d="M534 545.3H536.5V548.3H541.5V546.3H543.5V555.3H534M541.5 540.8V548.3" fill="none" stroke="#000" stroke-width="1"/>
<rect x="548" y="542.8" width="175" height="14" fill="#000" />
<path d="M551.80 543.8h1.9v4h-1.9zM557.75 543.8h1.9v4h-1.9zM563.71 543.8h1.9v4h-1.9zM569.66 543.8h1.9v4h-1.9zM575.62 543.8h1.9v4h-1.9zM581.57 543.8h1.9v4h-1.9zM587.53 543.8h1.9v4h-1.9zM593.48 543.8h1.9v4h-1.9zM599.44 543.8h1.9v4h-1.9zM605.39 543.8h1.9v4h-1.9zM611.35 543.8h1.9v4h-1.9zM617.30 543.8h1.9v4h-1.9zM623.26 543.8h1.9v4h-1.9zM629.21 543.8h1.9v4h-1.9zM635.17 543.8h1.9v4h-1.9zM641.12 543.8h1.9v4h-1.9zM647.08 543.8h1.9v4h-1.9zM653.03 543.8h1.9v4h-1.9zM658.99 543.8h1.9v4h-1.9zM664.94 543.8h1.9v4h-1.9zM670.90 543.8h1.9v4h-1.9zM676.86 543.8h1.9v4h-1.9zM682.81 543.8h1.9v4h-1.9zM688.76 543.8h1.9v4h-1.9zM694.72 543.8h1.9v4h-1.9zM700.67 543.8h1.9v4h-1.9zM706.63 543.8h1.9v4h-1.9zM712.58 543.8h1.9v4h-1.9zM718.54 543.8h1.9v4h-1.9z" fill="#fff"/>
<path d="M550.80 549.8h3.9v6h-3.9zM556.75 549.8h3.9v6h-3.9zM562.71 549.8h3.9v6h-3.9zM568.66 549.8h3.9v6h-3.9zM574.62 549.8h3.9v6h-3.9zM580.57 549.8h3.9v6h-3.9zM586.53 549.8h3.9v6h-3.9zM592.48 549.8h3.9v6h-3.9zM598.44 549.8h3.9v6h-3.9zM604.39 549.8h3.9v6h-3.9zM610.35 549.8h3.9v6h-3.9zM616.30 549.8h3.9v6h-3.9zM622.26 549.8h3.9v6h-3.9zM628.21 549.8h3.9v6h-3.9zM634.17 549.8h3.9v6h-3.9zM640.12 549.8h3.9v6h-3.9zM646.08 549.8h3.9v6h-3.9zM652.03 549.8h3.9v6h-3.9zM657.99 549.8h3.9v6h-3.9zM663.94 549.8h3.9v6h-3.9zM669.90 549.8h3.9v6h-3.9zM675.86 549.8h3.9v6h-3.9zM681.81 549.8h3.9v6h-3.9zM687.76 549.8h3.9v6h-3.9zM693.72 549.8h3.9v6h-3.9zM699.67 549.8h3.9v6h-3.9zM705.63 549.8h3.9v6h-3.9zM711.58 549.8h3.9v6h-3.9zM717.54 549.8h3.9v6h-3.9z" fill="#fff"/>
<rect x="737.2" y="540.8" width="3.7" height="16.8" fill="#000" />
<rect x="740.9" y="547.6" width="8.1" height="1.1" fill="#000" />
<rect x="740.9" y="554.6" width="8.1" height="1" fill="#000" />
<path d="M737.2 546.3H734.5V548.3H730.5V540.8M730.5 546.3H727.5V556.3H737.2" fill="none" stroke="#000" stroke-width="1"/>
<rect x="523" y="560.8" width="226" height="19" fill="#000" />
<rect x="524" y="561.8" width="224" height="17" fill="#fff" />
<rect x="530.1" y="560.8" width="3.8" height="16.8" fill="#000" />
<rect x="523" y="566.6" width="7.1" height="1" fill="#000" />
<rect x="523" y="574" width="7.1" height="1" fill="#000" />
<path d="M534 565.3H536.5V568.3H541.5V566.3H543.5V575.3H534M541.5 560.8V568.3" fill="none" stroke="#000" stroke-width="1"/>
<rect x="548" y="562.8" width="175" height="14" fill="#000" />
<path d="M551.80 563.8h1.9v4h-1.9zM557.75 563.8h1.9v4h-1.9zM563.71 563.8h1.9v4h-1.9zM569.66 563.8h1.9v4h-1.9zM575.62 563.8h1.9v4h-1.9zM581.57 563.8h1.9v4h-1.9zM587.53 563.8h1.9v4h-1.9zM593.48 563.8h1.9v4h-1.9zM599.44 563.8h1.9v4h-1.9zM605.39 563.8h1.9v4h-1.9zM611.35 563.8h1.9v4h-1.9zM617.30 563.8h1.9v4h-1.9zM623.26 563.8h1.9v4h-1.9zM629.21 563.8h1.9v4h-1.9zM635.17 563.8h1.9v4h-1.9zM641.12 563.8h1.9v4h-1.9zM647.08 563.8h1.9v4h-1.9zM653.03 563.8h1.9v4h-1.9zM658.99 563.8h1.9v4h-1.9zM664.94 563.8h1.9v4h-1.9zM670.90 563.8h1.9v4h-1.9zM676.86 563.8h1.9v4h-1.9zM682.81 563.8h1.9v4h-1.9zM688.76 563.8h1.9v4h-1.9zM694.72 563.8h1.9v4h-1.9zM700.67 563.8h1.9v4h-1.9zM706.63 563.8h1.9v4h-1.9zM712.58 563.8h1.9v4h-1.9zM718.54 563.8h1.9v4h-1.9z" fill="#fff"/>
<path d="M550.80 569.8h3.9v6h-3.9zM556.75 569.8h3.9v6h-3.9zM562.71 569.8h3.9v6h-3.9zM568.66 569.8h3.9v6h-3.9zM574.62 569.8h3.9v6h-3.9zM580.57 569.8h3.9v6h-3.9zM586.53 569.8h3.9v6h-3.9zM592.48 569.8h3.9v6h-3.9zM598.44 569.8h3.9v6h-3.9zM604.39 569.8h3.9v6h-3.9zM610.35 569.8h3.9v6h-3.9zM616.30 569.8h3.9v6h-3.9zM622.26 569.8h3.9v6h-3.9zM628.21 569.8h3.9v6h-3.9zM634.17 569.8h3.9v6h-3.9zM640.12 569.8h3.9v6h-3.9zM646.08 569.8h3.9v6h-3.9zM652.03 569.8h3.9v6h-3.9zM657.99 569.8h3.9v6h-3.9zM663.94 569.8h3.9v6h-3.9zM669.90 569.8h3.9v6h-3.9zM675.86 569.8h3.9v6h-3.9zM681.81 569.8h3.9v6h-3.9zM687.76 569.8h3.9v6h-3.9zM693.72 569.8h3.9v6h-3.9zM699.67 569.8h3.9v6h-3.9zM705.63 569.8h3.9v6h-3.9zM711.58 569.8h3.9v6h-3.9zM717.54 569.8h3.9v6h-3.9z" fill="#fff"/>
<rect x="737.2" y="560.8" width="3.7" height="16.8" fill="#000" />
<rect x="740.9" y="567.6" width="8.1" height="1.1" fill="#000" />
<rect x="740.9" y="574.6" width="8.1" height="1" fill="#000" />
<path d="M737.2 566.3H734.5V568.3H730.5V560.8M730.5 566.3H727.5V576.3H737.2" fill="none" stroke="#000" stroke-width="1"/>
<rect x="523" y="580.8" width="226" height="19" fill="#000" />
<rect x="524" y="581.8" width="224" height="17" fill="#fff" />
<rect x="530.1" y="580.8" width="3.8" height="16.8" fill="#000" />
<rect x="523" y="586.6" width="7.1" height="1" fill="#000" />
<rect x="523" y="594" width="7.1" height="1" fill="#000" />
<path d="M534 585.3H536.5V588.3H541.5V586.3H543.5V595.3H534M541.5 580.8V588.3" fill="none" stroke="#000" stroke-width="1"/>
<rect x="548" y="582.8" width="175" height="14" fill="#000" />
<path d="M551.80 583.8h1.9v4h-1.9zM557.75 583.8h1.9v4h-1.9zM563.71 583.8h1.9v4h-1.9zM569.66 583.8h1.9v4h-1.9zM575.62 583.8h1.9v4h-1.9zM581.57 583.8h1.9v4h-1.9zM587.53 583.8h1.9v4h-1.9zM593.48 583.8h1.9v4h-1.9zM599.44 583.8h1.9v4h-1.9zM605.39 583.8h1.9v4h-1.9zM611.35 583.8h1.9v4h-1.9zM617.30 583.8h1.9v4h-1.9zM623.26 583.8h1.9v4h-1.9zM629.21 583.8h1.9v4h-1.9zM635.17 583.8h1.9v4h-1.9zM641.12 583.8h1.9v4h-1.9zM647.08 583.8h1.9v4h-1.9zM653.03 583.8h1.9v4h-1.9zM658.99 583.8h1.9v4h-1.9zM664.94 583.8h1.9v4h-1.9zM670.90 583.8h1.9v4h-1.9zM676.86 583.8h1.9v4h-1.9zM682.81 583.8h1.9v4h-1.9zM688.76 583.8h1.9v4h-1.9zM694.72 583.8h1.9v4h-1.9zM700.67 583.8h1.9v4h-1.9zM706.63 583.8h1.9v4h-1.9zM712.58 583.8h1.9v4h-1.9zM718.54 583.8h1.9v4h-1.9z" fill="#fff"/>
<path d="M550.80 589.8h3.9v6h-3.9zM556.75 589.8h3.9v6h-3.9zM562.71 589.8h3.9v6h-3.9zM568.66 589.8h3.9v6h-3.9zM574.62 589.8h3.9v6h-3.9zM580.57 589.8h3.9v6h-3.9zM586.53 589.8h3.9v6h-3.9zM592.48 589.8h3.9v6h-3.9zM598.44 589.8h3.9v6h-3.9zM604.39 589.8h3.9v6h-3.9zM610.35 589.8h3.9v6h-3.9zM616.30 589.8h3.9v6h-3.9zM622.26 589.8h3.9v6h-3.9zM628.21 589.8h3.9v6h-3.9zM634.17 589.8h3.9v6h-3.9zM640.12 589.8h3.9v6h-3.9zM646.08 589.8h3.9v6h-3.9zM652.03 589.8h3.9v6h-3.9zM657.99 589.8h3.9v6h-3.9zM663.94 589.8h3.9v6h-3.9zM669.90 589.8h3.9v6h-3.9zM675.86 589.8h3.9v6h-3.9zM681.81 589.8h3.9v6h-3.9zM687.76 589.8h3.9v6h-3.9zM693.72 589.8h3.9v6h-3.9zM699.67 589.8h3.9v6h-3.9zM705.63 589.8h3.9v6h-3.9zM711.58 589.8h3.9v6h-3.9zM717.54 589.8h3.9v6h-3.9z" fill="#fff"/>
<rect x="737.2" y="580.8" width="3.7" height="16.8" fill="#000" />
<rect x="740.9" y="587.6" width="8.1" height="1.1" fill="#000" />
<rect x="740.9" y="594.6" width="8.1" height="1" fill="#000" />
<path d="M737.2 586.3H734.5V588.3H730.5V580.8M730.5 586.3H727.5V596.3H737.2" fill="none" stroke="#000" stroke-width="1"/>
</g>
<g shape-rendering="crispEdges">
<rect x="788" y="452.1" width="25.2" height="37.9" fill="#000" />
<rect x="813" y="448.1" width="5" height="45.9" fill="#000" />
<rect x="815" y="446" width="3" height="50.2" fill="#000" />
<rect x="782" y="461.1" width="4.6" height="8.6" fill="#000" />
<rect x="783.1" y="462.2" width="2.4" height="6.4" fill="#fff" />
<rect x="782" y="472.2" width="4.6" height="8.6" fill="#000" />
<rect x="783.1" y="473.3" width="2.4" height="6.4" fill="#fff" />
<rect x="785.8" y="459" width="2.8" height="23.6" fill="#000" />
<rect x="786.8" y="460" width="1.8" height="21.6" fill="#fff" />
<rect x="787.6" y="462.5" width="1.6" height="1" fill="#000" />
<rect x="787.6" y="464.6" width="1.6" height="1" fill="#000" />
<rect x="787.6" y="466.7" width="1.6" height="1" fill="#000" />
<rect x="787.6" y="474.5" width="1.6" height="1" fill="#000" />
<rect x="787.6" y="476.6" width="1.6" height="1" fill="#000" />
<rect x="787.6" y="478.7" width="1.6" height="1" fill="#000" />
<rect x="766" y="508" width="12" height="61" fill="#000" />
<rect x="767" y="509" width="10.2" height="1" fill="#fff" />
<rect x="767" y="513.6" width="10.2" height="1.1" fill="#fff" />
<rect x="767" y="520" width="10.2" height="1.2" fill="#fff" />
<rect x="767" y="525.2" width="10.2" height="1.8" fill="#fff" />
<rect x="767" y="531.2" width="10.2" height="1.8" fill="#fff" />
<rect x="767" y="537" width="10.2" height="1" fill="#fff" />
<rect x="767" y="542.8" width="10.2" height="1.2" fill="#fff" />
<rect x="767" y="548.2" width="10.2" height="1.8" fill="#fff" />
<rect x="767" y="554" width="10.2" height="1.6" fill="#fff" />
<rect x="767" y="560" width="10.2" height="1.8" fill="#fff" />
<rect x="767" y="566" width="10.2" height="2" fill="#fff" />
<rect x="768" y="511" width="3" height="2" fill="#fff" />
<rect x="767" y="537" width="1" height="31" fill="#fff" />
<rect x="766" y="571" width="12" height="61" fill="#000" />
<rect x="767" y="572" width="10.2" height="1" fill="#fff" />
<rect x="767" y="577" width="10.2" height="1" fill="#fff" />
<rect x="767" y="583" width="10.2" height="1.2" fill="#fff" />
<rect x="767" y="589" width="10.2" height="1.1" fill="#fff" />
<rect x="767" y="594" width="10.2" height="1.8" fill="#fff" />
<rect x="767" y="600" width="10.2" height="2" fill="#fff" />
<rect x="767" y="606" width="10.2" height="1.1" fill="#fff" />
<rect x="767" y="612" width="10.2" height="1" fill="#fff" />
<rect x="767" y="618" width="10.2" height="1.1" fill="#fff" />
<rect x="767" y="623.2" width="10.2" height="1.9" fill="#fff" />
<rect x="767" y="629" width="10.2" height="2" fill="#fff" />
<rect x="768" y="574" width="3" height="2" fill="#fff" />
<rect x="792" y="520" width="12.2" height="100.8" fill="#000" />
<rect x="793" y="521.2" width="10.2" height="1" fill="#fff" />
<rect x="793" y="527" width="10.2" height="1.1" fill="#fff" />
<rect x="793" y="532.765" width="10.2" height="1.7" fill="#fff" />
<rect x="793" y="538.53" width="10.2" height="1.1" fill="#fff" />
<rect x="793" y="544.295" width="10.2" height="1.1" fill="#fff" />
<rect x="793" y="550.06" width="10.2" height="1.7" fill="#fff" />
<rect x="793" y="555.825" width="10.2" height="1.1" fill="#fff" />
<rect x="793" y="561.59" width="10.2" height="1.1" fill="#fff" />
<rect x="793" y="567.355" width="10.2" height="1.7" fill="#fff" />
<rect x="793" y="573.12" width="10.2" height="1.1" fill="#fff" />
<rect x="793" y="578.885" width="10.2" height="1.1" fill="#fff" />
<rect x="793" y="584.65" width="10.2" height="1.7" fill="#fff" />
<rect x="793" y="590.415" width="10.2" height="1.1" fill="#fff" />
<rect x="793" y="596.18" width="10.2" height="1.1" fill="#fff" />
<rect x="793" y="601.945" width="10.2" height="1.7" fill="#fff" />
<rect x="793" y="607.71" width="10.2" height="1.1" fill="#fff" />
<rect x="793" y="613.475" width="10.2" height="1.1" fill="#fff" />
<rect x="793" y="619.24" width="10.2" height="1.7" fill="#fff" />
<rect x="798" y="521.2" width="1.1" height="98.6" fill="#fff" />
<rect x="794" y="523" width="2.1" height="3" fill="#fff" />
</g>
<path d="M531 623H574V625H578V668H576V673H533V671H529V627H530V625H531Z" fill="#000"/>
<path d="M553 628H555V631H552V629H553Z" fill="#fff"/>
<rect x="596.7" y="661" width="127.6" height="43.2" fill="#000" />
<line x1="599" y1="663.5" x2="723.5" y2="663.5" stroke="#fff" stroke-width="1" stroke-dasharray="3.7 2.5"/>
<rect x="596.7" y="676" width="2.5" height="13" fill="#fff" />
<rect x="647" y="675" width="28.1" height="15" rx="2" fill="#fff" class="aa"/>
<text transform="scale(0.720,1)" x="900.39 912.63 924.22" y="686.8" font-size="14" fill="#000" font-weight="normal">KBD</text>
<rect x="731.9" y="662.9" width="77.3" height="39.1" fill="#000" />
<text transform="scale(0.780,1)" x="944.61 955.19 964.82 976.05 978.05 994.25 1004.76 1009.47 1020.77" y="681.3" font-size="14.2" fill="#fff" font-weight="bold" stroke="#fff" stroke-width="0.5">REAL TIME</text>
<text transform="scale(0.780,1)" x="962.34 973.23 982.40 993.88 1003.60" y="694.2" font-size="12.8" fill="#fff" font-weight="bold" stroke="#fff" stroke-width="0.5">CLOCK</text>
<rect x="74.4" y="5.2" width="25.4" height="18.3" rx="3.2" fill="#000" class="aa"/>
<polygon points="77,20 82.5,21 67,29.8" fill="#fff" stroke="#000" stroke-width="1.3" stroke-linejoin="miter" class="aa"/>
<polyline points="76.6,21.6 66.8,29.8" fill="none" stroke="#000" stroke-width="2.2" class="aa"/>
<rect x="77" y="7.2" width="20.2" height="13.7" rx="1.6" fill="#fff" class="aa"/>
<text transform="scale(0.720,1)" x="108.04 110.04 123.23" y="17.7" font-size="14" fill="#000" font-weight="normal">W 3</text>
<rect x="7.2" y="28" width="25.4" height="18.3" rx="3.2" fill="#000" class="aa"/>
<polygon points="29.5,34.4 29.5,40.2 48.4,37.6" fill="#fff" stroke="#000" stroke-width="1.3" stroke-linejoin="miter" class="aa"/>
<polyline points="31.5,35 48.4,37.2" fill="none" stroke="#000" stroke-width="2.2" class="aa"/>
<rect x="9.8" y="30.3" width="20.5" height="13.4" rx="1.6" fill="#fff" class="aa"/>
<text transform="scale(0.720,1)" x="14.98 16.98 30.97" y="40.9" font-size="14" fill="#000" font-weight="normal">W 2</text>
<rect x="106.1" y="88.1" width="48.1" height="16.1" rx="2.5" fill="#000" class="aa"/>
<rect x="107.1" y="89.1" width="45.9" height="13.7" rx="1.8" fill="#fff" class="aa"/>
<text transform="scale(0.720,1)" x="148.74 162.62 173.81 189.46 201.65" y="101.1" font-size="14" fill="#000" font-weight="normal">CACHE</text>
<rect x="71" y="335" width="31.3" height="16" rx="2.5" fill="#000" class="aa"/>
<rect x="72.2" y="336.1" width="28.8" height="13.6" rx="1.8" fill="#fff" class="aa"/>
<text transform="scale(0.720,1)" x="104.61 113.24 126.19" y="346.9" font-size="13.8" fill="#000" font-weight="normal">TAG</text>
<rect x="393.2" y="276.5" width="24.5" height="18" rx="2.2" fill="#000" class="aa"/>
<rect x="394.9" y="278" width="21" height="15.1" rx="1.8" fill="#fff" class="aa"/>
<text transform="scale(0.720,1)" x="552.07 554.07 564.65" y="289.8" font-size="13.8" fill="#000" font-weight="normal">S 1</text>
<rect x="728" y="167.2" width="35.8" height="18.2" rx="3.2" fill="#000" class="aa"/>
<polygon points="761,173.2 761,179.4 779,176.3" fill="#fff" stroke="#000" stroke-width="1.3" stroke-linejoin="miter" class="aa"/>
<polyline points="763,174 779,176" fill="none" stroke="#000" stroke-width="2.2" class="aa"/>
<rect x="730.3" y="169.2" width="31.7" height="14" rx="1.6" fill="#fff" class="aa"/>
<text transform="scale(0.720,1)" x="1016.86 1028.53 1046.63" y="180.7" font-size="14" fill="#000" font-weight="normal">SW3</text>
<rect x="728" y="251.9" width="35.8" height="17.8" rx="3.2" fill="#000" class="aa"/>
<polygon points="761,257.5 761,263.7 778.6,260.7" fill="#fff" stroke="#000" stroke-width="1.3" stroke-linejoin="miter" class="aa"/>
<polyline points="763,258.4 778.6,260.4" fill="none" stroke="#000" stroke-width="2.2" class="aa"/>
<rect x="730.1" y="253.5" width="32.1" height="14.1" rx="1.6" fill="#fff" class="aa"/>
<text transform="scale(0.720,1)" x="1015.89 1028.11 1045.62" y="264.8" font-size="14" fill="#000" font-weight="normal">SW2</text>
<rect x="485.3" y="370.4" width="24.7" height="17" rx="1.5" fill="#000" class="aa"/>
<polygon points="505,385 509,383 516.6,395.4" fill="#fff" stroke="#000" stroke-width="1.3" stroke-linejoin="miter" class="aa"/>
<polyline points="506.8,386.2 516.4,395.4" fill="none" stroke="#000" stroke-width="2.6" class="aa"/>
<rect x="487.2" y="372" width="21.1" height="13.9" rx="0.8" fill="#fff" class="aa"/>
<text transform="scale(0.720,1)" x="677.83 679.83 694.44" y="382.7" font-size="14" fill="#000" font-weight="normal">W 8</text>
<rect x="476" y="399.8" width="25.9" height="18" rx="3.2" fill="#000" class="aa"/>
<polygon points="499.5,405.6 499.5,411.8 517,408.9" fill="#fff" stroke="#000" stroke-width="1.3" stroke-linejoin="miter" class="aa"/>
<polyline points="501,406.4 517,408.5" fill="none" stroke="#000" stroke-width="2.2" class="aa"/>
<rect x="478.3" y="401.7" width="21.6" height="13.8" rx="1.6" fill="#fff" class="aa"/>
<text transform="scale(0.720,1)" x="666.30 668.30 683.12" y="412.7" font-size="14" fill="#000" font-weight="normal">W 9</text>
<rect x="485.1" y="430" width="26.1" height="18" rx="3.2" fill="#000" class="aa"/>
<polygon points="504.5,432.5 509.5,436 517.8,422.3" fill="#fff" stroke="#000" stroke-width="1.3" stroke-linejoin="miter" class="aa"/>
<polyline points="505.5,431.2 517.6,422.3" fill="none" stroke="#000" stroke-width="2.6" class="aa"/>
<rect x="487.4" y="431.9" width="21.8" height="13.8" rx="1.6" fill="#fff" class="aa"/>
<text transform="scale(0.720,1)" x="679.15 681.15 695.13" y="442.7" font-size="14" fill="#000" font-weight="normal">W 7</text>
<rect x="65.1" y="394.8" width="25.6" height="18.8" rx="3.2" fill="#000" class="aa"/>
<polygon points="67.5,401 73,396.5 59,388.3" fill="#fff" stroke="#000" stroke-width="1.3" stroke-linejoin="miter" class="aa"/>
<polyline points="67.8,398.8 59.2,388.4" fill="none" stroke="#000" stroke-width="2.8" class="aa"/>
<rect x="68" y="396.9" width="20.6" height="14.4" rx="1.6" fill="#fff" class="aa"/>
<text transform="scale(0.720,1)" x="98.58 108.20" y="408" font-size="14" fill="#000" font-weight="normal">J5</text>
<rect x="113.4" y="394.3" width="34.2" height="18.3" rx="3.2" fill="#000" class="aa"/>
<polygon points="115.5,400.5 121,396 107.3,387.7" fill="#fff" stroke="#000" stroke-width="1.3" stroke-linejoin="miter" class="aa"/>
<polyline points="116,398.4 107.4,387.8" fill="none" stroke="#000" stroke-width="2.8" class="aa"/>
<rect x="116.2" y="396.4" width="29.2" height="14.1" rx="1.6" fill="#fff" class="aa"/>
<text transform="scale(0.720,1)" x="163.66 180.13 190.00" y="407.2" font-size="14" fill="#000" font-weight="normal">W20</text>
<rect x="164.1" y="408.9" width="24.6" height="18.7" rx="3.2" fill="#000" class="aa"/>
<polygon points="166.5,415 172,410.8 157.4,402.6" fill="#fff" stroke="#000" stroke-width="1.3" stroke-linejoin="miter" class="aa"/>
<polyline points="167,413.2 157.6,402.8" fill="none" stroke="#000" stroke-width="2.8" class="aa"/>
<rect x="167" y="411.1" width="19.5" height="13.7" rx="1.6" fill="#fff" class="aa"/>
<text transform="scale(0.720,1)" x="232.55 234.55 248.90" y="421.8" font-size="14" fill="#000" font-weight="normal">W 1</text>
<rect x="95" y="418.2" width="25.6" height="17.4" rx="3.2" fill="#000" class="aa"/>
<polygon points="98,424 98,430 80.4,427" fill="#fff" stroke="#000" stroke-width="1.3" stroke-linejoin="miter" class="aa"/>
<polyline points="96.5,425 80.4,426.8" fill="none" stroke="#000" stroke-width="2.2" class="aa"/>
<rect x="97.1" y="419.8" width="21.9" height="13.9" rx="1.6" fill="#fff" class="aa"/>
<text transform="scale(0.720,1)" x="140.04 149.21" y="430.6" font-size="14" fill="#000" font-weight="normal">J4</text>
<rect x="210.1" y="525" width="25.8" height="18.8" rx="3.2" fill="#000" class="aa"/>
<polygon points="219.8,528 225.4,528 222.3,508.2" fill="#fff" stroke="#000" stroke-width="1.3" stroke-linejoin="miter" class="aa"/>
<polyline points="220.4,527 222.2,508.4" fill="none" stroke="#000" stroke-width="1.8" class="aa"/>
<rect x="212.9" y="526.9" width="21.3" height="14.1" rx="1.6" fill="#fff" class="aa"/>
<text transform="scale(0.720,1)" x="296.44 298.44 313.55" y="538.1" font-size="14" fill="#000" font-weight="normal">W 5</text>
<rect x="284" y="533.1" width="25.8" height="18.7" rx="3.2" fill="#000" class="aa"/>
<polygon points="293.7,536 299.3,536 296.2,516.4" fill="#fff" stroke="#000" stroke-width="1.3" stroke-linejoin="miter" class="aa"/>
<polyline points="294.3,535 296.1,516.6" fill="none" stroke="#000" stroke-width="1.8" class="aa"/>
<rect x="286.8" y="535" width="21.3" height="14" rx="1.6" fill="#fff" class="aa"/>
<text transform="scale(0.720,1)" x="399.22 401.22 416.15" y="546.2" font-size="14" fill="#000" font-weight="normal">W 4</text>
<rect x="443.1" y="503.2" width="25.9" height="18.5" rx="3.2" fill="#000" class="aa"/>
<polygon points="452.8,506.5 458.4,506.5 455.3,487.4" fill="#fff" stroke="#000" stroke-width="1.3" stroke-linejoin="miter" class="aa"/>
<polyline points="453.4,505.5 455.2,487.6" fill="none" stroke="#000" stroke-width="1.8" class="aa"/>
<rect x="445.8" y="505.4" width="21.4" height="14.3" rx="1.6" fill="#fff" class="aa"/>
<text transform="scale(0.720,1)" x="620.33 622.33 637.10" y="516.8" font-size="14" fill="#000" font-weight="normal">W 6</text>
<rect x="606.5" y="469.7" width="58.9" height="17.8" rx="3.2" fill="#000" class="aa"/>
<rect x="608" y="471.3" width="55.8" height="14.6" rx="1.6" fill="#fff" class="aa"/>
<text transform="scale(0.720,1)" x="850.33 862.97 874.94 887.41 889.41 907.78" y="484" font-size="13.8" fill="#000" font-weight="normal">BANK 1</text>
<rect x="606.5" y="550.7" width="58.9" height="17.5" rx="3.2" fill="#000" class="aa"/>
<rect x="608" y="552.3" width="55.8" height="14.3" rx="1.6" fill="#fff" class="aa"/>
<text transform="scale(0.720,1)" x="850.33 862.97 874.94 887.41 889.41 906.86" y="563.8" font-size="13.8" fill="#000" font-weight="normal">BANK 0</text>
<rect x="722.9" y="513" width="33.5" height="17.6" rx="3.2" fill="#000" class="aa"/>
<polygon points="749.5,528 754,524.5 762.2,538" fill="#fff" stroke="#000" stroke-width="1.3" stroke-linejoin="miter" class="aa"/>
<polyline points="752.8,528.4 762,538" fill="none" stroke="#000" stroke-width="2.6" class="aa"/>
<rect x="724.5" y="514.3" width="29" height="14.4" rx="1.6" fill="#fff" class="aa"/>
<text transform="scale(0.720,1)" x="1011.35 1020.22 1029.37" y="526.8" font-size="14" fill="#000" font-weight="normal">J10</text>
<rect x="814.3" y="547.8" width="24.3" height="18.2" rx="3.2" fill="#000" class="aa"/>
<polygon points="817,559.5 822,563.6 807.4,572.8" fill="#fff" stroke="#000" stroke-width="1.3" stroke-linejoin="miter" class="aa"/>
<polyline points="816.6,563.4 807.6,572.6" fill="none" stroke="#000" stroke-width="2.6" class="aa"/>
<rect x="816.2" y="550.1" width="20.5" height="13" rx="1.6" fill="#fff" class="aa"/>
<text transform="scale(0.720,1)" x="1138.79 1147.57" y="560.9" font-size="14" fill="#000" font-weight="normal">J8</text>
<rect x="731.2" y="608.6" width="24.6" height="17.6" rx="3.2" fill="#000" class="aa"/>
<polygon points="748.5,611.5 753,615.5 762.6,601.6" fill="#fff" stroke="#000" stroke-width="1.3" stroke-linejoin="miter" class="aa"/>
<polyline points="752,610.4 762.4,601.8" fill="none" stroke="#000" stroke-width="2.6" class="aa"/>
<rect x="733.5" y="610.9" width="20" height="12.4" rx="1.6" fill="#fff" class="aa"/>
<text transform="scale(0.720,1)" x="1022.47 1030.69" y="622" font-size="14" fill="#000" font-weight="normal">J9</text>
</g>
</svg>
</body>
</html>
